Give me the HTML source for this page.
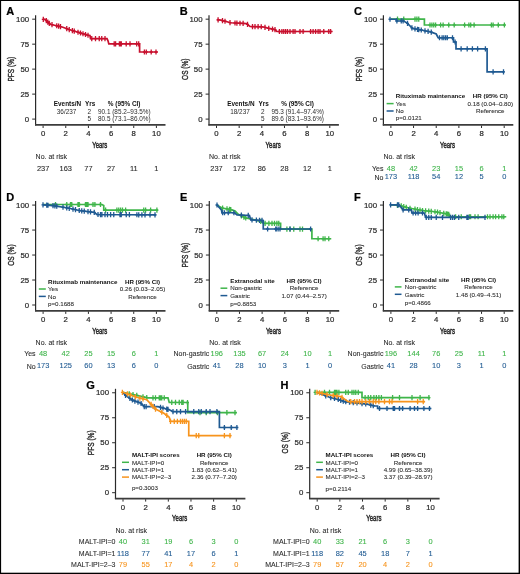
<!DOCTYPE html>
<html><head><meta charset="utf-8"><style>
html,body{margin:0;padding:0;background:#fff;width:520px;height:574px;overflow:hidden}
svg{display:block;font-family:"Liberation Sans",sans-serif;will-change:transform}
</style></head><body>
<svg width="520" height="574" viewBox="0 0 520 574">
<rect x="0" y="0" width="520" height="574" fill="#fff"/>
<line x1="35.60" y1="15.20" x2="35.60" y2="125.40" stroke="#2a2a2a" stroke-width="1.2"/>
<line x1="35.00" y1="124.95" x2="165.50" y2="124.95" stroke="#3c3c3c" stroke-width="1.8"/>
<line x1="32.20" y1="119.10" x2="35.60" y2="119.10" stroke="#2a2a2a" stroke-width="1.0"/>
<text transform="translate(29.20,121.68) scale(0.97,1)" font-size="8.1" text-anchor="end" font-weight="normal" fill="#2b2b2b" stroke="#2b2b2b" stroke-width="0.22">0</text>
<line x1="32.20" y1="94.12" x2="35.60" y2="94.12" stroke="#2a2a2a" stroke-width="1.0"/>
<text transform="translate(29.20,96.70) scale(0.97,1)" font-size="8.1" text-anchor="end" font-weight="normal" fill="#2b2b2b" stroke="#2b2b2b" stroke-width="0.22">25</text>
<line x1="32.20" y1="69.14" x2="35.60" y2="69.14" stroke="#2a2a2a" stroke-width="1.0"/>
<text transform="translate(29.20,71.72) scale(0.97,1)" font-size="8.1" text-anchor="end" font-weight="normal" fill="#2b2b2b" stroke="#2b2b2b" stroke-width="0.22">50</text>
<line x1="32.20" y1="44.16" x2="35.60" y2="44.16" stroke="#2a2a2a" stroke-width="1.0"/>
<text transform="translate(29.20,46.74) scale(0.97,1)" font-size="8.1" text-anchor="end" font-weight="normal" fill="#2b2b2b" stroke="#2b2b2b" stroke-width="0.22">75</text>
<line x1="32.20" y1="19.18" x2="35.60" y2="19.18" stroke="#2a2a2a" stroke-width="1.0"/>
<text transform="translate(29.20,21.76) scale(0.97,1)" font-size="8.1" text-anchor="end" font-weight="normal" fill="#2b2b2b" stroke="#2b2b2b" stroke-width="0.22">100</text>
<line x1="43.10" y1="125.60" x2="43.10" y2="128.00" stroke="#2a2a2a" stroke-width="1.0"/>
<text transform="translate(43.10,136.00) scale(0.97,1)" font-size="8.0" text-anchor="middle" font-weight="normal" fill="#2b2b2b" stroke="#2b2b2b" stroke-width="0.22">0</text>
<line x1="65.76" y1="125.60" x2="65.76" y2="128.00" stroke="#2a2a2a" stroke-width="1.0"/>
<text transform="translate(65.76,136.00) scale(0.97,1)" font-size="8.0" text-anchor="middle" font-weight="normal" fill="#2b2b2b" stroke="#2b2b2b" stroke-width="0.22">2</text>
<line x1="88.42" y1="125.60" x2="88.42" y2="128.00" stroke="#2a2a2a" stroke-width="1.0"/>
<text transform="translate(88.42,136.00) scale(0.97,1)" font-size="8.0" text-anchor="middle" font-weight="normal" fill="#2b2b2b" stroke="#2b2b2b" stroke-width="0.22">4</text>
<line x1="111.08" y1="125.60" x2="111.08" y2="128.00" stroke="#2a2a2a" stroke-width="1.0"/>
<text transform="translate(111.08,136.00) scale(0.97,1)" font-size="8.0" text-anchor="middle" font-weight="normal" fill="#2b2b2b" stroke="#2b2b2b" stroke-width="0.22">6</text>
<line x1="133.74" y1="125.60" x2="133.74" y2="128.00" stroke="#2a2a2a" stroke-width="1.0"/>
<text transform="translate(133.74,136.00) scale(0.97,1)" font-size="8.0" text-anchor="middle" font-weight="normal" fill="#2b2b2b" stroke="#2b2b2b" stroke-width="0.22">8</text>
<line x1="156.40" y1="125.60" x2="156.40" y2="128.00" stroke="#2a2a2a" stroke-width="1.0"/>
<text transform="translate(156.40,136.00) scale(0.97,1)" font-size="8.0" text-anchor="middle" font-weight="normal" fill="#2b2b2b" stroke="#2b2b2b" stroke-width="0.22">10</text>
<text transform="translate(99.75,147.60) scale(0.62,1)" font-size="9.7" text-anchor="middle" font-weight="normal" fill="#2b2b2b" stroke="#2b2b2b" stroke-width="0.5">Years</text>
<text x="6.30" y="15.20" font-size="11" text-anchor="start" font-weight="bold" fill="#000" stroke="#000" stroke-width="0.22">A</text>
<text transform="translate(14.10,69.20) rotate(-90) scale(0.69,1)" font-size="9.5" text-anchor="middle" font-weight="normal" fill="#2b2b2b" stroke="#2b2b2b" stroke-width="0.4">PFS (%)</text>
<path d="M43.10,19.30 L45.00,19.40 L50.20,24.30 L62.20,27.00 L68.30,29.30 L75.50,31.50 L88.00,35.25 L90.00,35.60 L90.50,38.60 L107.00,38.60 L108.00,40.80 L108.80,43.80 L139.60,43.80 L139.60,52.00 L157.90,52.00" fill="none" stroke="#c8102e" stroke-width="1.7" stroke-linejoin="miter"/>
<path d="M43.30,16.71V21.91M41.80,19.31H44.80M46.30,18.02V23.22M44.80,20.62H47.80M47.80,19.44V24.64M46.30,22.04H49.30M49.30,20.85V26.05M47.80,23.45H50.80M52.00,22.10V27.30M50.50,24.70H53.50M56.75,23.17V28.37M55.25,25.77H58.25M58.60,23.59V28.79M57.10,26.19H60.10M60.50,24.02V29.22M59.00,26.62H62.00M66.75,26.12V31.32M65.25,28.72H68.25M69.25,26.99V32.19M67.75,29.59H70.75M72.40,27.95V33.15M70.90,30.55H73.90M74.25,28.52V33.72M72.75,31.12H75.75M78.00,29.65V34.85M76.50,32.25H79.50M80.50,30.40V35.60M79.00,33.00H82.00M83.00,31.15V36.35M81.50,33.75H84.50M85.50,31.90V37.10M84.00,34.50H87.00M88.00,32.65V37.85M86.50,35.25H89.50M91.75,36.00V41.20M90.25,38.60H93.25M95.50,36.00V41.20M94.00,38.60H97.00M99.25,36.00V41.20M97.75,38.60H100.75M101.75,36.00V41.20M100.25,38.60H103.25M105.00,36.00V41.20M103.50,38.60H106.50M114.20,41.20V46.40M112.70,43.80H115.70M115.60,41.20V46.40M114.10,43.80H117.10M119.40,41.20V46.40M117.90,43.80H120.90M120.40,41.20V46.40M118.90,43.80H121.90M121.30,41.20V46.40M119.80,43.80H122.80M126.20,41.20V46.40M124.70,43.80H127.70M130.00,41.20V46.40M128.50,43.80H131.50M136.70,41.20V46.40M135.20,43.80H138.20M138.70,41.20V46.40M137.20,43.80H140.20M144.40,49.40V54.60M142.90,52.00H145.90M146.30,49.40V54.60M144.80,52.00H147.80M151.20,49.40V54.60M149.70,52.00H152.70M156.00,49.40V54.60M154.50,52.00H157.50" stroke="#c8102e" stroke-width="1.3" fill="none"/>
<text x="53.80" y="106.17" font-size="6.4" text-anchor="start" font-weight="bold" fill="#111">Events/N</text>
<text x="85.10" y="106.17" font-size="6.4" text-anchor="start" font-weight="bold" fill="#111">Yrs</text>
<text x="107.80" y="106.17" font-size="6.4" text-anchor="start" font-weight="bold" fill="#111">% (95% CI)</text>
<text x="66.60" y="113.57" font-size="6.4" text-anchor="middle" font-weight="normal" fill="#2b2b2b">36/237</text>
<text x="89.40" y="113.57" font-size="6.4" text-anchor="middle" font-weight="normal" fill="#2b2b2b">2</text>
<text x="98.00" y="113.57" font-size="6.4" text-anchor="start" font-weight="normal" fill="#2b2b2b">90.1 (85.2–93.5%)</text>
<text x="89.40" y="120.67" font-size="6.4" text-anchor="middle" font-weight="normal" fill="#2b2b2b">5</text>
<text x="98.00" y="120.67" font-size="6.4" text-anchor="start" font-weight="normal" fill="#2b2b2b">80.5 (73.1–86.0%)</text>
<text x="35.60" y="159.09" font-size="7.0" text-anchor="start" font-weight="normal" fill="#2b2b2b" stroke="#2b2b2b" stroke-width="0.08">No. at risk</text>
<text transform="translate(43.10,170.64) scale(0.93,1)" font-size="8.0" text-anchor="middle" font-weight="normal" fill="#2b2b2b" stroke="#2b2b2b" stroke-width="0.1">237</text>
<text transform="translate(65.76,170.64) scale(0.93,1)" font-size="8.0" text-anchor="middle" font-weight="normal" fill="#2b2b2b" stroke="#2b2b2b" stroke-width="0.1">163</text>
<text transform="translate(88.42,170.64) scale(0.93,1)" font-size="8.0" text-anchor="middle" font-weight="normal" fill="#2b2b2b" stroke="#2b2b2b" stroke-width="0.1">77</text>
<text transform="translate(111.08,170.64) scale(0.93,1)" font-size="8.0" text-anchor="middle" font-weight="normal" fill="#2b2b2b" stroke="#2b2b2b" stroke-width="0.1">27</text>
<text transform="translate(133.74,170.64) scale(0.93,1)" font-size="8.0" text-anchor="middle" font-weight="normal" fill="#2b2b2b" stroke="#2b2b2b" stroke-width="0.1">11</text>
<text transform="translate(156.40,170.64) scale(0.93,1)" font-size="8.0" text-anchor="middle" font-weight="normal" fill="#2b2b2b" stroke="#2b2b2b" stroke-width="0.1">1</text>
<line x1="209.00" y1="15.20" x2="209.00" y2="125.40" stroke="#2a2a2a" stroke-width="1.2"/>
<line x1="208.40" y1="124.95" x2="338.90" y2="124.95" stroke="#3c3c3c" stroke-width="1.8"/>
<line x1="205.60" y1="119.10" x2="209.00" y2="119.10" stroke="#2a2a2a" stroke-width="1.0"/>
<text transform="translate(202.60,121.68) scale(0.97,1)" font-size="8.1" text-anchor="end" font-weight="normal" fill="#2b2b2b" stroke="#2b2b2b" stroke-width="0.22">0</text>
<line x1="205.60" y1="94.12" x2="209.00" y2="94.12" stroke="#2a2a2a" stroke-width="1.0"/>
<text transform="translate(202.60,96.70) scale(0.97,1)" font-size="8.1" text-anchor="end" font-weight="normal" fill="#2b2b2b" stroke="#2b2b2b" stroke-width="0.22">25</text>
<line x1="205.60" y1="69.14" x2="209.00" y2="69.14" stroke="#2a2a2a" stroke-width="1.0"/>
<text transform="translate(202.60,71.72) scale(0.97,1)" font-size="8.1" text-anchor="end" font-weight="normal" fill="#2b2b2b" stroke="#2b2b2b" stroke-width="0.22">50</text>
<line x1="205.60" y1="44.16" x2="209.00" y2="44.16" stroke="#2a2a2a" stroke-width="1.0"/>
<text transform="translate(202.60,46.74) scale(0.97,1)" font-size="8.1" text-anchor="end" font-weight="normal" fill="#2b2b2b" stroke="#2b2b2b" stroke-width="0.22">75</text>
<line x1="205.60" y1="19.18" x2="209.00" y2="19.18" stroke="#2a2a2a" stroke-width="1.0"/>
<text transform="translate(202.60,21.76) scale(0.97,1)" font-size="8.1" text-anchor="end" font-weight="normal" fill="#2b2b2b" stroke="#2b2b2b" stroke-width="0.22">100</text>
<line x1="216.50" y1="125.60" x2="216.50" y2="128.00" stroke="#2a2a2a" stroke-width="1.0"/>
<text transform="translate(216.50,136.00) scale(0.97,1)" font-size="8.0" text-anchor="middle" font-weight="normal" fill="#2b2b2b" stroke="#2b2b2b" stroke-width="0.22">0</text>
<line x1="239.16" y1="125.60" x2="239.16" y2="128.00" stroke="#2a2a2a" stroke-width="1.0"/>
<text transform="translate(239.16,136.00) scale(0.97,1)" font-size="8.0" text-anchor="middle" font-weight="normal" fill="#2b2b2b" stroke="#2b2b2b" stroke-width="0.22">2</text>
<line x1="261.82" y1="125.60" x2="261.82" y2="128.00" stroke="#2a2a2a" stroke-width="1.0"/>
<text transform="translate(261.82,136.00) scale(0.97,1)" font-size="8.0" text-anchor="middle" font-weight="normal" fill="#2b2b2b" stroke="#2b2b2b" stroke-width="0.22">4</text>
<line x1="284.48" y1="125.60" x2="284.48" y2="128.00" stroke="#2a2a2a" stroke-width="1.0"/>
<text transform="translate(284.48,136.00) scale(0.97,1)" font-size="8.0" text-anchor="middle" font-weight="normal" fill="#2b2b2b" stroke="#2b2b2b" stroke-width="0.22">6</text>
<line x1="307.14" y1="125.60" x2="307.14" y2="128.00" stroke="#2a2a2a" stroke-width="1.0"/>
<text transform="translate(307.14,136.00) scale(0.97,1)" font-size="8.0" text-anchor="middle" font-weight="normal" fill="#2b2b2b" stroke="#2b2b2b" stroke-width="0.22">8</text>
<line x1="329.80" y1="125.60" x2="329.80" y2="128.00" stroke="#2a2a2a" stroke-width="1.0"/>
<text transform="translate(329.80,136.00) scale(0.97,1)" font-size="8.0" text-anchor="middle" font-weight="normal" fill="#2b2b2b" stroke="#2b2b2b" stroke-width="0.22">10</text>
<text transform="translate(273.15,147.60) scale(0.62,1)" font-size="9.7" text-anchor="middle" font-weight="normal" fill="#2b2b2b" stroke="#2b2b2b" stroke-width="0.5">Years</text>
<text x="179.70" y="15.20" font-size="11" text-anchor="start" font-weight="bold" fill="#000" stroke="#000" stroke-width="0.22">B</text>
<text transform="translate(187.50,69.20) rotate(-90) scale(0.69,1)" font-size="9.5" text-anchor="middle" font-weight="normal" fill="#2b2b2b" stroke="#2b2b2b" stroke-width="0.4">OS (%)</text>
<path d="M216.80,19.60 L221.00,20.20 L230.60,22.75 L246.25,23.60 L248.00,24.60 L250.00,26.50 L262.50,26.80 L268.75,28.40 L275.00,29.60 L276.90,31.50 L332.60,31.50" fill="none" stroke="#c8102e" stroke-width="1.7" stroke-linejoin="miter"/>
<path d="M218.10,17.19V22.39M216.60,19.79H219.60M222.50,18.00V23.20M221.00,20.60H224.00M225.00,18.66V23.86M223.50,21.26H226.50M230.00,19.99V25.19M228.50,22.59H231.50M235.00,20.39V25.59M233.50,22.99H236.50M236.90,20.49V25.69M235.40,23.09H238.40M240.00,20.66V25.86M238.50,23.26H241.50M243.10,20.83V26.03M241.60,23.43H244.60M247.50,21.71V26.91M246.00,24.31H249.00M252.50,23.96V29.16M251.00,26.56H254.00M255.00,24.02V29.22M253.50,26.62H256.50M258.10,24.09V29.29M256.60,26.69H259.60M261.25,24.17V29.37M259.75,26.77H262.75M265.00,24.84V30.04M263.50,27.44H266.50M268.75,25.80V31.00M267.25,28.40H270.25M272.50,26.52V31.72M271.00,29.12H274.00M275.00,27.00V32.20M273.50,29.60H276.50M279.40,28.90V34.10M277.90,31.50H280.90M281.90,28.90V34.10M280.40,31.50H283.40M283.75,28.90V34.10M282.25,31.50H285.25M285.60,28.90V34.10M284.10,31.50H287.10M287.50,28.90V34.10M286.00,31.50H289.00M290.00,28.90V34.10M288.50,31.50H291.50M293.10,28.90V34.10M291.60,31.50H294.60M295.00,28.90V34.10M293.50,31.50H296.50M300.00,28.90V34.10M298.50,31.50H301.50M303.10,28.90V34.10M301.60,31.50H304.60M310.60,28.90V34.10M309.10,31.50H312.10M313.10,28.90V34.10M311.60,31.50H314.60M315.60,28.90V34.10M314.10,31.50H317.10M318.10,28.90V34.10M316.60,31.50H319.60M320.00,28.90V34.10M318.50,31.50H321.50M323.75,28.90V34.10M322.25,31.50H325.25M328.75,28.90V34.10M327.25,31.50H330.25M330.60,28.90V34.10M329.10,31.50H332.10" stroke="#c8102e" stroke-width="1.3" fill="none"/>
<text x="227.20" y="106.17" font-size="6.4" text-anchor="start" font-weight="bold" fill="#111">Events/N</text>
<text x="258.50" y="106.17" font-size="6.4" text-anchor="start" font-weight="bold" fill="#111">Yrs</text>
<text x="281.20" y="106.17" font-size="6.4" text-anchor="start" font-weight="bold" fill="#111">% (95% CI)</text>
<text x="240.00" y="113.57" font-size="6.4" text-anchor="middle" font-weight="normal" fill="#2b2b2b">18/237</text>
<text x="262.80" y="113.57" font-size="6.4" text-anchor="middle" font-weight="normal" fill="#2b2b2b">2</text>
<text x="271.40" y="113.57" font-size="6.4" text-anchor="start" font-weight="normal" fill="#2b2b2b">95.3 (91.4–97.4%)</text>
<text x="262.80" y="120.67" font-size="6.4" text-anchor="middle" font-weight="normal" fill="#2b2b2b">5</text>
<text x="271.40" y="120.67" font-size="6.4" text-anchor="start" font-weight="normal" fill="#2b2b2b">89.6 (83.1–93.6%)</text>
<text x="209.00" y="159.09" font-size="7.0" text-anchor="start" font-weight="normal" fill="#2b2b2b" stroke="#2b2b2b" stroke-width="0.08">No. at risk</text>
<text transform="translate(216.50,170.64) scale(0.93,1)" font-size="8.0" text-anchor="middle" font-weight="normal" fill="#2b2b2b" stroke="#2b2b2b" stroke-width="0.1">237</text>
<text transform="translate(239.16,170.64) scale(0.93,1)" font-size="8.0" text-anchor="middle" font-weight="normal" fill="#2b2b2b" stroke="#2b2b2b" stroke-width="0.1">172</text>
<text transform="translate(261.82,170.64) scale(0.93,1)" font-size="8.0" text-anchor="middle" font-weight="normal" fill="#2b2b2b" stroke="#2b2b2b" stroke-width="0.1">86</text>
<text transform="translate(284.48,170.64) scale(0.93,1)" font-size="8.0" text-anchor="middle" font-weight="normal" fill="#2b2b2b" stroke="#2b2b2b" stroke-width="0.1">28</text>
<text transform="translate(307.14,170.64) scale(0.93,1)" font-size="8.0" text-anchor="middle" font-weight="normal" fill="#2b2b2b" stroke="#2b2b2b" stroke-width="0.1">12</text>
<text transform="translate(329.80,170.64) scale(0.93,1)" font-size="8.0" text-anchor="middle" font-weight="normal" fill="#2b2b2b" stroke="#2b2b2b" stroke-width="0.1">1</text>
<line x1="383.40" y1="15.20" x2="383.40" y2="125.40" stroke="#2a2a2a" stroke-width="1.2"/>
<line x1="382.80" y1="124.95" x2="513.30" y2="124.95" stroke="#3c3c3c" stroke-width="1.8"/>
<line x1="380.00" y1="119.10" x2="383.40" y2="119.10" stroke="#2a2a2a" stroke-width="1.0"/>
<text transform="translate(377.00,121.68) scale(0.97,1)" font-size="8.1" text-anchor="end" font-weight="normal" fill="#2b2b2b" stroke="#2b2b2b" stroke-width="0.22">0</text>
<line x1="380.00" y1="94.12" x2="383.40" y2="94.12" stroke="#2a2a2a" stroke-width="1.0"/>
<text transform="translate(377.00,96.70) scale(0.97,1)" font-size="8.1" text-anchor="end" font-weight="normal" fill="#2b2b2b" stroke="#2b2b2b" stroke-width="0.22">25</text>
<line x1="380.00" y1="69.14" x2="383.40" y2="69.14" stroke="#2a2a2a" stroke-width="1.0"/>
<text transform="translate(377.00,71.72) scale(0.97,1)" font-size="8.1" text-anchor="end" font-weight="normal" fill="#2b2b2b" stroke="#2b2b2b" stroke-width="0.22">50</text>
<line x1="380.00" y1="44.16" x2="383.40" y2="44.16" stroke="#2a2a2a" stroke-width="1.0"/>
<text transform="translate(377.00,46.74) scale(0.97,1)" font-size="8.1" text-anchor="end" font-weight="normal" fill="#2b2b2b" stroke="#2b2b2b" stroke-width="0.22">75</text>
<line x1="380.00" y1="19.18" x2="383.40" y2="19.18" stroke="#2a2a2a" stroke-width="1.0"/>
<text transform="translate(377.00,21.76) scale(0.97,1)" font-size="8.1" text-anchor="end" font-weight="normal" fill="#2b2b2b" stroke="#2b2b2b" stroke-width="0.22">100</text>
<line x1="390.90" y1="125.60" x2="390.90" y2="128.00" stroke="#2a2a2a" stroke-width="1.0"/>
<text transform="translate(390.90,136.00) scale(0.97,1)" font-size="8.0" text-anchor="middle" font-weight="normal" fill="#2b2b2b" stroke="#2b2b2b" stroke-width="0.22">0</text>
<line x1="413.56" y1="125.60" x2="413.56" y2="128.00" stroke="#2a2a2a" stroke-width="1.0"/>
<text transform="translate(413.56,136.00) scale(0.97,1)" font-size="8.0" text-anchor="middle" font-weight="normal" fill="#2b2b2b" stroke="#2b2b2b" stroke-width="0.22">2</text>
<line x1="436.22" y1="125.60" x2="436.22" y2="128.00" stroke="#2a2a2a" stroke-width="1.0"/>
<text transform="translate(436.22,136.00) scale(0.97,1)" font-size="8.0" text-anchor="middle" font-weight="normal" fill="#2b2b2b" stroke="#2b2b2b" stroke-width="0.22">4</text>
<line x1="458.88" y1="125.60" x2="458.88" y2="128.00" stroke="#2a2a2a" stroke-width="1.0"/>
<text transform="translate(458.88,136.00) scale(0.97,1)" font-size="8.0" text-anchor="middle" font-weight="normal" fill="#2b2b2b" stroke="#2b2b2b" stroke-width="0.22">6</text>
<line x1="481.54" y1="125.60" x2="481.54" y2="128.00" stroke="#2a2a2a" stroke-width="1.0"/>
<text transform="translate(481.54,136.00) scale(0.97,1)" font-size="8.0" text-anchor="middle" font-weight="normal" fill="#2b2b2b" stroke="#2b2b2b" stroke-width="0.22">8</text>
<line x1="504.20" y1="125.60" x2="504.20" y2="128.00" stroke="#2a2a2a" stroke-width="1.0"/>
<text transform="translate(504.20,136.00) scale(0.97,1)" font-size="8.0" text-anchor="middle" font-weight="normal" fill="#2b2b2b" stroke="#2b2b2b" stroke-width="0.22">10</text>
<text transform="translate(447.55,147.60) scale(0.62,1)" font-size="9.7" text-anchor="middle" font-weight="normal" fill="#2b2b2b" stroke="#2b2b2b" stroke-width="0.5">Years</text>
<text x="354.10" y="15.20" font-size="11" text-anchor="start" font-weight="bold" fill="#000" stroke="#000" stroke-width="0.22">C</text>
<text transform="translate(361.90,69.20) rotate(-90) scale(0.69,1)" font-size="9.5" text-anchor="middle" font-weight="normal" fill="#2b2b2b" stroke="#2b2b2b" stroke-width="0.4">PFS (%)</text>
<path d="M390.90,19.10 L424.40,19.10 L424.40,25.00 L505.30,25.00" fill="none" stroke="#3fb54a" stroke-width="1.7" stroke-linejoin="miter"/>
<path d="M397.50,16.50V21.70M396.00,19.10H399.00M403.75,16.50V21.70M402.25,19.10H405.25M415.00,16.50V21.70M413.50,19.10H416.50M416.90,16.50V21.70M415.40,19.10H418.40M418.75,16.50V21.70M417.25,19.10H420.25M430.00,22.40V27.60M428.50,25.00H431.50M431.90,22.40V27.60M430.40,25.00H433.40M433.75,22.40V27.60M432.25,25.00H435.25M435.60,22.40V27.60M434.10,25.00H437.10M440.60,22.40V27.60M439.10,25.00H442.10M443.10,22.40V27.60M441.60,25.00H444.60M448.75,22.40V27.60M447.25,25.00H450.25M454.20,22.40V27.60M452.70,25.00H455.70M464.60,22.40V27.60M463.10,25.00H466.10M468.90,22.40V27.60M467.40,25.00H470.40M470.70,22.40V27.60M469.20,25.00H472.20M474.10,22.40V27.60M472.60,25.00H475.60M491.40,22.40V27.60M489.90,25.00H492.90M493.10,22.40V27.60M491.60,25.00H494.60M498.30,22.40V27.60M496.80,25.00H499.80M504.40,22.40V27.60M502.90,25.00H505.90" stroke="#3fb54a" stroke-width="1.3" fill="none"/>
<path d="M390.90,19.25 L396.25,19.25 L396.25,20.90 L403.75,21.00 L407.50,23.40 L410.60,26.50 L412.50,28.40 L422.50,30.25 L431.25,32.10 L436.25,34.00 L438.10,37.75 L453.50,37.75 L453.50,42.00 L456.00,42.00 L456.00,48.80 L487.10,48.80 L487.10,71.80 L504.40,71.80" fill="none" stroke="#1f5a92" stroke-width="1.7" stroke-linejoin="miter"/>
<path d="M390.00,16.65V21.85M388.50,19.25H391.50M396.90,18.31V23.51M395.40,20.91H398.40M401.25,18.37V23.57M399.75,20.97H402.75M403.10,18.39V23.59M401.60,20.99H404.60M407.50,20.80V26.00M406.00,23.40H409.00M411.90,25.20V30.40M410.40,27.80H413.40M415.00,26.26V31.46M413.50,28.86H416.50M417.50,26.72V31.93M416.00,29.32H419.00M418.75,26.96V32.16M417.25,29.56H420.25M421.25,27.42V32.62M419.75,30.02H422.75M425.00,28.18V33.38M423.50,30.78H426.50M428.10,28.83V34.03M426.60,31.43H429.60M431.25,29.50V34.70M429.75,32.10H432.75M439.50,35.15V40.35M438.00,37.75H441.00M442.10,35.15V40.35M440.60,37.75H443.60M443.80,35.15V40.35M442.30,37.75H445.30M445.60,35.15V40.35M444.10,37.75H447.10M447.30,35.15V40.35M445.80,37.75H448.80M452.50,35.15V40.35M451.00,37.75H454.00M455.10,39.40V44.60M453.60,42.00H456.60M461.10,46.20V51.40M459.60,48.80H462.60M467.20,46.20V51.40M465.70,48.80H468.70M472.40,46.20V51.40M470.90,48.80H473.90M477.60,46.20V51.40M476.10,48.80H479.10M485.40,46.20V51.40M483.90,48.80H486.90M493.10,69.20V74.40M491.60,71.80H494.60M503.50,69.20V74.40M502.00,71.80H505.00" stroke="#1f5a92" stroke-width="1.3" fill="none"/>
<text x="395.80" y="98.40" font-size="6.2" text-anchor="start" font-weight="bold" fill="#111">Rituximab maintenance</text>
<text x="490.30" y="98.40" font-size="6.2" text-anchor="middle" font-weight="bold" fill="#111">HR (95% CI)</text>
<line x1="386.60" y1="103.60" x2="393.60" y2="103.60" stroke="#3fb54a" stroke-width="1.5"/>
<text x="395.80" y="105.80" font-size="6.2" text-anchor="start" font-weight="normal" fill="#2b2b2b" stroke="#2b2b2b" stroke-width="0.08">Yes</text>
<text x="490.30" y="105.80" font-size="6.2" text-anchor="middle" font-weight="normal" fill="#2b2b2b" stroke="#2b2b2b" stroke-width="0.08">0.18 (0.04–0.80)</text>
<line x1="386.60" y1="111.00" x2="393.60" y2="111.00" stroke="#1f5a92" stroke-width="1.5"/>
<text x="395.80" y="113.20" font-size="6.2" text-anchor="start" font-weight="normal" fill="#2b2b2b" stroke="#2b2b2b" stroke-width="0.08">No</text>
<text x="490.30" y="113.20" font-size="6.2" text-anchor="middle" font-weight="normal" fill="#2b2b2b" stroke="#2b2b2b" stroke-width="0.08">Reference</text>
<text x="395.80" y="120.20" font-size="6.2" text-anchor="start" font-weight="normal" fill="#2b2b2b" stroke="#2b2b2b" stroke-width="0.08">p=0.0121</text>
<text x="383.40" y="159.09" font-size="7.0" text-anchor="start" font-weight="normal" fill="#2b2b2b" stroke="#2b2b2b" stroke-width="0.08">No. at risk</text>
<text x="383.40" y="170.89" font-size="7.0" text-anchor="end" font-weight="normal" fill="#2b2b2b" stroke="#2b2b2b" stroke-width="0.08">Yes</text>
<text transform="translate(390.90,170.74) scale(0.93,1)" font-size="8.0" text-anchor="middle" font-weight="normal" fill="#3fb54a" stroke="#3fb54a" stroke-width="0.1">48</text>
<text transform="translate(413.56,170.74) scale(0.93,1)" font-size="8.0" text-anchor="middle" font-weight="normal" fill="#3fb54a" stroke="#3fb54a" stroke-width="0.1">42</text>
<text transform="translate(436.22,170.74) scale(0.93,1)" font-size="8.0" text-anchor="middle" font-weight="normal" fill="#3fb54a" stroke="#3fb54a" stroke-width="0.1">23</text>
<text transform="translate(458.88,170.74) scale(0.93,1)" font-size="8.0" text-anchor="middle" font-weight="normal" fill="#3fb54a" stroke="#3fb54a" stroke-width="0.1">15</text>
<text transform="translate(481.54,170.74) scale(0.93,1)" font-size="8.0" text-anchor="middle" font-weight="normal" fill="#3fb54a" stroke="#3fb54a" stroke-width="0.1">6</text>
<text transform="translate(504.20,170.74) scale(0.93,1)" font-size="8.0" text-anchor="middle" font-weight="normal" fill="#3fb54a" stroke="#3fb54a" stroke-width="0.1">1</text>
<text x="383.40" y="179.59" font-size="7.0" text-anchor="end" font-weight="normal" fill="#2b2b2b" stroke="#2b2b2b" stroke-width="0.08">No</text>
<text transform="translate(390.90,179.44) scale(0.93,1)" font-size="8.0" text-anchor="middle" font-weight="normal" fill="#1f5a92" stroke="#1f5a92" stroke-width="0.1">173</text>
<text transform="translate(413.56,179.44) scale(0.93,1)" font-size="8.0" text-anchor="middle" font-weight="normal" fill="#1f5a92" stroke="#1f5a92" stroke-width="0.1">118</text>
<text transform="translate(436.22,179.44) scale(0.93,1)" font-size="8.0" text-anchor="middle" font-weight="normal" fill="#1f5a92" stroke="#1f5a92" stroke-width="0.1">54</text>
<text transform="translate(458.88,179.44) scale(0.93,1)" font-size="8.0" text-anchor="middle" font-weight="normal" fill="#1f5a92" stroke="#1f5a92" stroke-width="0.1">12</text>
<text transform="translate(481.54,179.44) scale(0.93,1)" font-size="8.0" text-anchor="middle" font-weight="normal" fill="#1f5a92" stroke="#1f5a92" stroke-width="0.1">5</text>
<text transform="translate(504.20,179.44) scale(0.93,1)" font-size="8.0" text-anchor="middle" font-weight="normal" fill="#1f5a92" stroke="#1f5a92" stroke-width="0.1">0</text>
<line x1="35.60" y1="201.10" x2="35.60" y2="311.30" stroke="#2a2a2a" stroke-width="1.2"/>
<line x1="35.00" y1="310.85" x2="165.50" y2="310.85" stroke="#3c3c3c" stroke-width="1.8"/>
<line x1="32.20" y1="305.00" x2="35.60" y2="305.00" stroke="#2a2a2a" stroke-width="1.0"/>
<text transform="translate(29.20,307.58) scale(0.97,1)" font-size="8.1" text-anchor="end" font-weight="normal" fill="#2b2b2b" stroke="#2b2b2b" stroke-width="0.22">0</text>
<line x1="32.20" y1="280.02" x2="35.60" y2="280.02" stroke="#2a2a2a" stroke-width="1.0"/>
<text transform="translate(29.20,282.60) scale(0.97,1)" font-size="8.1" text-anchor="end" font-weight="normal" fill="#2b2b2b" stroke="#2b2b2b" stroke-width="0.22">25</text>
<line x1="32.20" y1="255.04" x2="35.60" y2="255.04" stroke="#2a2a2a" stroke-width="1.0"/>
<text transform="translate(29.20,257.62) scale(0.97,1)" font-size="8.1" text-anchor="end" font-weight="normal" fill="#2b2b2b" stroke="#2b2b2b" stroke-width="0.22">50</text>
<line x1="32.20" y1="230.06" x2="35.60" y2="230.06" stroke="#2a2a2a" stroke-width="1.0"/>
<text transform="translate(29.20,232.64) scale(0.97,1)" font-size="8.1" text-anchor="end" font-weight="normal" fill="#2b2b2b" stroke="#2b2b2b" stroke-width="0.22">75</text>
<line x1="32.20" y1="205.08" x2="35.60" y2="205.08" stroke="#2a2a2a" stroke-width="1.0"/>
<text transform="translate(29.20,207.66) scale(0.97,1)" font-size="8.1" text-anchor="end" font-weight="normal" fill="#2b2b2b" stroke="#2b2b2b" stroke-width="0.22">100</text>
<line x1="43.10" y1="311.50" x2="43.10" y2="313.90" stroke="#2a2a2a" stroke-width="1.0"/>
<text transform="translate(43.10,321.90) scale(0.97,1)" font-size="8.0" text-anchor="middle" font-weight="normal" fill="#2b2b2b" stroke="#2b2b2b" stroke-width="0.22">0</text>
<line x1="65.76" y1="311.50" x2="65.76" y2="313.90" stroke="#2a2a2a" stroke-width="1.0"/>
<text transform="translate(65.76,321.90) scale(0.97,1)" font-size="8.0" text-anchor="middle" font-weight="normal" fill="#2b2b2b" stroke="#2b2b2b" stroke-width="0.22">2</text>
<line x1="88.42" y1="311.50" x2="88.42" y2="313.90" stroke="#2a2a2a" stroke-width="1.0"/>
<text transform="translate(88.42,321.90) scale(0.97,1)" font-size="8.0" text-anchor="middle" font-weight="normal" fill="#2b2b2b" stroke="#2b2b2b" stroke-width="0.22">4</text>
<line x1="111.08" y1="311.50" x2="111.08" y2="313.90" stroke="#2a2a2a" stroke-width="1.0"/>
<text transform="translate(111.08,321.90) scale(0.97,1)" font-size="8.0" text-anchor="middle" font-weight="normal" fill="#2b2b2b" stroke="#2b2b2b" stroke-width="0.22">6</text>
<line x1="133.74" y1="311.50" x2="133.74" y2="313.90" stroke="#2a2a2a" stroke-width="1.0"/>
<text transform="translate(133.74,321.90) scale(0.97,1)" font-size="8.0" text-anchor="middle" font-weight="normal" fill="#2b2b2b" stroke="#2b2b2b" stroke-width="0.22">8</text>
<line x1="156.40" y1="311.50" x2="156.40" y2="313.90" stroke="#2a2a2a" stroke-width="1.0"/>
<text transform="translate(156.40,321.90) scale(0.97,1)" font-size="8.0" text-anchor="middle" font-weight="normal" fill="#2b2b2b" stroke="#2b2b2b" stroke-width="0.22">10</text>
<text transform="translate(99.75,333.50) scale(0.62,1)" font-size="9.7" text-anchor="middle" font-weight="normal" fill="#2b2b2b" stroke="#2b2b2b" stroke-width="0.5">Years</text>
<text x="6.30" y="201.10" font-size="11" text-anchor="start" font-weight="bold" fill="#000" stroke="#000" stroke-width="0.22">D</text>
<text transform="translate(14.10,255.10) rotate(-90) scale(0.69,1)" font-size="9.5" text-anchor="middle" font-weight="normal" fill="#2b2b2b" stroke="#2b2b2b" stroke-width="0.4">OS (%)</text>
<path d="M43.10,204.50 L102.00,204.50 L103.75,205.50 L103.75,210.10 L158.10,210.10" fill="none" stroke="#3fb54a" stroke-width="1.7" stroke-linejoin="miter"/>
<path d="M55.50,201.90V207.10M54.00,204.50H57.00M66.75,201.90V207.10M65.25,204.50H68.25M70.50,201.90V207.10M69.00,204.50H72.00M71.75,201.90V207.10M70.25,204.50H73.25M78.00,201.90V207.10M76.50,204.50H79.50M79.25,201.90V207.10M77.75,204.50H80.75M85.50,201.90V207.10M84.00,204.50H87.00M86.75,201.90V207.10M85.25,204.50H88.25M88.00,201.90V207.10M86.50,204.50H89.50M93.00,201.90V207.10M91.50,204.50H94.50M94.90,201.90V207.10M93.40,204.50H96.40M100.50,201.90V207.10M99.00,204.50H102.00M105.60,207.50V212.70M104.10,210.10H107.10M116.90,207.50V212.70M115.40,210.10H118.40M118.75,207.50V212.70M117.25,210.10H120.25M120.60,207.50V212.70M119.10,210.10H122.10M122.50,207.50V212.70M121.00,210.10H124.00M125.60,207.50V212.70M124.10,210.10H127.10M143.75,207.50V212.70M142.25,210.10H145.25M145.60,207.50V212.70M144.10,210.10H147.10M150.60,207.50V212.70M149.10,210.10H152.10M156.90,207.50V212.70M155.40,210.10H158.40" stroke="#3fb54a" stroke-width="1.3" fill="none"/>
<path d="M43.10,204.90 L53.00,205.60 L68.00,208.00 L79.25,210.50 L94.25,212.40 L96.75,214.50 L156.25,214.90" fill="none" stroke="#1f5a92" stroke-width="1.7" stroke-linejoin="miter"/>
<path d="M43.00,202.30V207.50M41.50,204.90H44.50M46.75,202.56V207.76M45.25,205.16H48.25M48.00,202.65V207.85M46.50,205.25H49.50M53.00,203.00V208.20M51.50,205.60H54.50M54.90,203.30V208.50M53.40,205.90H56.40M56.75,203.60V208.80M55.25,206.20H58.25M63.00,204.60V209.80M61.50,207.20H64.50M66.75,205.20V210.40M65.25,207.80H68.25M69.25,205.68V210.88M67.75,208.28H70.75M73.00,206.51V211.71M71.50,209.11H74.50M75.50,207.07V212.27M74.00,209.67H77.00M79.25,207.90V213.10M77.75,210.50H80.75M81.75,208.22V213.42M80.25,210.82H83.25M84.25,208.53V213.73M82.75,211.13H85.75M88.00,209.01V214.21M86.50,211.61H89.50M90.50,209.33V214.53M89.00,211.93H92.00M94.25,209.80V215.00M92.75,212.40H95.75M98.00,211.91V217.11M96.50,214.51H99.50M100.50,211.93V217.13M99.00,214.53H102.00M101.90,211.93V217.13M100.40,214.53H103.40M105.00,211.96V217.16M103.50,214.56H106.50M107.50,211.97V217.17M106.00,214.57H109.00M110.60,211.99V217.19M109.10,214.59H112.10M113.75,212.01V217.21M112.25,214.61H115.25M120.00,212.06V217.26M118.50,214.66H121.50M121.25,212.06V217.26M119.75,214.66H122.75M126.25,212.10V217.30M124.75,214.70H127.75M129.40,212.12V217.32M127.90,214.72H130.90M136.90,212.17V217.37M135.40,214.77H138.40M138.75,212.18V217.38M137.25,214.78H140.25M141.90,212.20V217.40M140.40,214.80H143.40M145.00,212.22V217.42M143.50,214.82H146.50M150.00,212.26V217.46M148.50,214.86H151.50M155.00,212.29V217.49M153.50,214.89H156.50" stroke="#1f5a92" stroke-width="1.3" fill="none"/>
<text x="48.00" y="283.80" font-size="6.2" text-anchor="start" font-weight="bold" fill="#111">Rituximab maintenance</text>
<text x="142.50" y="283.80" font-size="6.2" text-anchor="middle" font-weight="bold" fill="#111">HR (95% CI)</text>
<line x1="38.80" y1="289.00" x2="45.80" y2="289.00" stroke="#3fb54a" stroke-width="1.5"/>
<text x="48.00" y="291.20" font-size="6.2" text-anchor="start" font-weight="normal" fill="#2b2b2b" stroke="#2b2b2b" stroke-width="0.08">Yes</text>
<text x="142.50" y="291.20" font-size="6.2" text-anchor="middle" font-weight="normal" fill="#2b2b2b" stroke="#2b2b2b" stroke-width="0.08">0.26 (0.03–2.05)</text>
<line x1="38.80" y1="296.40" x2="45.80" y2="296.40" stroke="#1f5a92" stroke-width="1.5"/>
<text x="48.00" y="298.60" font-size="6.2" text-anchor="start" font-weight="normal" fill="#2b2b2b" stroke="#2b2b2b" stroke-width="0.08">No</text>
<text x="142.50" y="298.60" font-size="6.2" text-anchor="middle" font-weight="normal" fill="#2b2b2b" stroke="#2b2b2b" stroke-width="0.08">Reference</text>
<text x="48.00" y="306.40" font-size="6.2" text-anchor="start" font-weight="normal" fill="#2b2b2b" stroke="#2b2b2b" stroke-width="0.08">p=0.1688</text>
<text x="35.60" y="344.99" font-size="7.0" text-anchor="start" font-weight="normal" fill="#2b2b2b" stroke="#2b2b2b" stroke-width="0.08">No. at risk</text>
<text x="35.60" y="356.49" font-size="7.0" text-anchor="end" font-weight="normal" fill="#2b2b2b" stroke="#2b2b2b" stroke-width="0.08">Yes</text>
<text transform="translate(43.10,356.34) scale(0.93,1)" font-size="8.0" text-anchor="middle" font-weight="normal" fill="#3fb54a" stroke="#3fb54a" stroke-width="0.1">48</text>
<text transform="translate(65.76,356.34) scale(0.93,1)" font-size="8.0" text-anchor="middle" font-weight="normal" fill="#3fb54a" stroke="#3fb54a" stroke-width="0.1">42</text>
<text transform="translate(88.42,356.34) scale(0.93,1)" font-size="8.0" text-anchor="middle" font-weight="normal" fill="#3fb54a" stroke="#3fb54a" stroke-width="0.1">25</text>
<text transform="translate(111.08,356.34) scale(0.93,1)" font-size="8.0" text-anchor="middle" font-weight="normal" fill="#3fb54a" stroke="#3fb54a" stroke-width="0.1">15</text>
<text transform="translate(133.74,356.34) scale(0.93,1)" font-size="8.0" text-anchor="middle" font-weight="normal" fill="#3fb54a" stroke="#3fb54a" stroke-width="0.1">6</text>
<text transform="translate(156.40,356.34) scale(0.93,1)" font-size="8.0" text-anchor="middle" font-weight="normal" fill="#3fb54a" stroke="#3fb54a" stroke-width="0.1">1</text>
<text x="35.60" y="368.59" font-size="7.0" text-anchor="end" font-weight="normal" fill="#2b2b2b" stroke="#2b2b2b" stroke-width="0.08">No</text>
<text transform="translate(43.10,368.44) scale(0.93,1)" font-size="8.0" text-anchor="middle" font-weight="normal" fill="#1f5a92" stroke="#1f5a92" stroke-width="0.1">173</text>
<text transform="translate(65.76,368.44) scale(0.93,1)" font-size="8.0" text-anchor="middle" font-weight="normal" fill="#1f5a92" stroke="#1f5a92" stroke-width="0.1">125</text>
<text transform="translate(88.42,368.44) scale(0.93,1)" font-size="8.0" text-anchor="middle" font-weight="normal" fill="#1f5a92" stroke="#1f5a92" stroke-width="0.1">60</text>
<text transform="translate(111.08,368.44) scale(0.93,1)" font-size="8.0" text-anchor="middle" font-weight="normal" fill="#1f5a92" stroke="#1f5a92" stroke-width="0.1">13</text>
<text transform="translate(133.74,368.44) scale(0.93,1)" font-size="8.0" text-anchor="middle" font-weight="normal" fill="#1f5a92" stroke="#1f5a92" stroke-width="0.1">6</text>
<text transform="translate(156.40,368.44) scale(0.93,1)" font-size="8.0" text-anchor="middle" font-weight="normal" fill="#1f5a92" stroke="#1f5a92" stroke-width="0.1">0</text>
<line x1="209.30" y1="201.10" x2="209.30" y2="311.30" stroke="#2a2a2a" stroke-width="1.2"/>
<line x1="208.70" y1="310.85" x2="339.20" y2="310.85" stroke="#3c3c3c" stroke-width="1.8"/>
<line x1="205.90" y1="305.00" x2="209.30" y2="305.00" stroke="#2a2a2a" stroke-width="1.0"/>
<text transform="translate(202.90,307.58) scale(0.97,1)" font-size="8.1" text-anchor="end" font-weight="normal" fill="#2b2b2b" stroke="#2b2b2b" stroke-width="0.22">0</text>
<line x1="205.90" y1="280.02" x2="209.30" y2="280.02" stroke="#2a2a2a" stroke-width="1.0"/>
<text transform="translate(202.90,282.60) scale(0.97,1)" font-size="8.1" text-anchor="end" font-weight="normal" fill="#2b2b2b" stroke="#2b2b2b" stroke-width="0.22">25</text>
<line x1="205.90" y1="255.04" x2="209.30" y2="255.04" stroke="#2a2a2a" stroke-width="1.0"/>
<text transform="translate(202.90,257.62) scale(0.97,1)" font-size="8.1" text-anchor="end" font-weight="normal" fill="#2b2b2b" stroke="#2b2b2b" stroke-width="0.22">50</text>
<line x1="205.90" y1="230.06" x2="209.30" y2="230.06" stroke="#2a2a2a" stroke-width="1.0"/>
<text transform="translate(202.90,232.64) scale(0.97,1)" font-size="8.1" text-anchor="end" font-weight="normal" fill="#2b2b2b" stroke="#2b2b2b" stroke-width="0.22">75</text>
<line x1="205.90" y1="205.08" x2="209.30" y2="205.08" stroke="#2a2a2a" stroke-width="1.0"/>
<text transform="translate(202.90,207.66) scale(0.97,1)" font-size="8.1" text-anchor="end" font-weight="normal" fill="#2b2b2b" stroke="#2b2b2b" stroke-width="0.22">100</text>
<line x1="216.80" y1="311.50" x2="216.80" y2="313.90" stroke="#2a2a2a" stroke-width="1.0"/>
<text transform="translate(216.80,321.90) scale(0.97,1)" font-size="8.0" text-anchor="middle" font-weight="normal" fill="#2b2b2b" stroke="#2b2b2b" stroke-width="0.22">0</text>
<line x1="239.46" y1="311.50" x2="239.46" y2="313.90" stroke="#2a2a2a" stroke-width="1.0"/>
<text transform="translate(239.46,321.90) scale(0.97,1)" font-size="8.0" text-anchor="middle" font-weight="normal" fill="#2b2b2b" stroke="#2b2b2b" stroke-width="0.22">2</text>
<line x1="262.12" y1="311.50" x2="262.12" y2="313.90" stroke="#2a2a2a" stroke-width="1.0"/>
<text transform="translate(262.12,321.90) scale(0.97,1)" font-size="8.0" text-anchor="middle" font-weight="normal" fill="#2b2b2b" stroke="#2b2b2b" stroke-width="0.22">4</text>
<line x1="284.78" y1="311.50" x2="284.78" y2="313.90" stroke="#2a2a2a" stroke-width="1.0"/>
<text transform="translate(284.78,321.90) scale(0.97,1)" font-size="8.0" text-anchor="middle" font-weight="normal" fill="#2b2b2b" stroke="#2b2b2b" stroke-width="0.22">6</text>
<line x1="307.44" y1="311.50" x2="307.44" y2="313.90" stroke="#2a2a2a" stroke-width="1.0"/>
<text transform="translate(307.44,321.90) scale(0.97,1)" font-size="8.0" text-anchor="middle" font-weight="normal" fill="#2b2b2b" stroke="#2b2b2b" stroke-width="0.22">8</text>
<line x1="330.10" y1="311.50" x2="330.10" y2="313.90" stroke="#2a2a2a" stroke-width="1.0"/>
<text transform="translate(330.10,321.90) scale(0.97,1)" font-size="8.0" text-anchor="middle" font-weight="normal" fill="#2b2b2b" stroke="#2b2b2b" stroke-width="0.22">10</text>
<text transform="translate(273.45,333.50) scale(0.62,1)" font-size="9.7" text-anchor="middle" font-weight="normal" fill="#2b2b2b" stroke="#2b2b2b" stroke-width="0.5">Years</text>
<text x="180.00" y="201.10" font-size="11" text-anchor="start" font-weight="bold" fill="#000" stroke="#000" stroke-width="0.22">E</text>
<text transform="translate(187.80,255.10) rotate(-90) scale(0.69,1)" font-size="9.5" text-anchor="middle" font-weight="normal" fill="#2b2b2b" stroke="#2b2b2b" stroke-width="0.4">PFS (%)</text>
<path d="M216.90,204.90 L222.00,208.00 L232.00,209.90 L235.10,211.10 L238.25,214.25 L245.75,218.00 L252.00,219.25 L262.00,221.75 L263.25,223.30 L280.60,223.30 L280.60,229.20 L311.90,229.20 L311.90,238.75 L331.25,238.75" fill="none" stroke="#3fb54a" stroke-width="1.7" stroke-linejoin="miter"/>
<path d="M222.60,205.51V210.71M221.10,208.11H224.10M227.00,206.35V211.55M225.50,208.95H228.50M229.50,206.83V212.03M228.00,209.43H231.00M230.75,207.06V212.26M229.25,209.66H232.25M241.40,213.22V218.42M239.90,215.82H242.90M243.90,214.47V219.67M242.40,217.07H245.40M245.75,215.40V220.60M244.25,218.00H247.25M260.75,218.84V224.04M259.25,221.44H262.25M265.10,220.70V225.90M263.60,223.30H266.60M268.90,220.70V225.90M267.40,223.30H270.40M272.00,220.70V225.90M270.50,223.30H273.50M274.50,220.70V225.90M273.00,223.30H276.00M276.90,220.70V225.90M275.40,223.30H278.40M278.75,220.70V225.90M277.25,223.30H280.25M286.90,226.60V231.80M285.40,229.20H288.40M290.00,226.60V231.80M288.50,229.20H291.50M293.75,226.60V231.80M292.25,229.20H295.25M300.00,226.60V231.80M298.50,229.20H301.50M302.50,226.60V231.80M301.00,229.20H304.00M318.10,236.15V241.35M316.60,238.75H319.60M323.10,236.15V241.35M321.60,238.75H324.60M325.00,236.15V241.35M323.50,238.75H326.50M328.75,236.15V241.35M327.25,238.75H330.25" stroke="#3fb54a" stroke-width="1.3" fill="none"/>
<path d="M216.90,204.90 L221.40,209.90 L222.00,212.75 L234.50,212.75 L237.00,214.90 L249.50,215.50 L250.75,219.90 L263.25,220.50 L263.25,229.00 L311.25,229.00" fill="none" stroke="#1f5a92" stroke-width="1.7" stroke-linejoin="miter"/>
<path d="M217.00,202.41V207.61M215.50,205.01H218.50M222.60,210.15V215.35M221.10,212.75H224.10M224.50,210.15V215.35M223.00,212.75H226.00M228.25,210.15V215.35M226.75,212.75H229.75M233.90,210.15V215.35M232.40,212.75H235.40M241.40,212.51V217.71M239.90,215.11H242.90M248.25,212.84V218.04M246.75,215.44H249.75M252.00,217.36V222.56M250.50,219.96H253.50M256.40,217.57V222.77M254.90,220.17H257.90M259.50,217.72V222.92M258.00,220.32H261.00M262.00,217.84V223.04M260.50,220.44H263.50M267.60,226.40V231.60M266.10,229.00H269.10M275.75,226.40V231.60M274.25,229.00H277.25M276.25,226.40V231.60M274.75,229.00H277.75M278.10,226.40V231.60M276.60,229.00H279.60M280.00,226.40V231.60M278.50,229.00H281.50M290.00,226.40V231.60M288.50,229.00H291.50M310.60,226.40V231.60M309.10,229.00H312.10" stroke="#1f5a92" stroke-width="1.3" fill="none"/>
<text x="230.30" y="283.00" font-size="6.2" text-anchor="start" font-weight="bold" fill="#111">Extranodal site</text>
<text x="304.10" y="283.00" font-size="6.2" text-anchor="middle" font-weight="bold" fill="#111">HR (95% CI)</text>
<line x1="220.50" y1="288.20" x2="227.30" y2="288.20" stroke="#3fb54a" stroke-width="1.5"/>
<text x="230.30" y="290.40" font-size="6.2" text-anchor="start" font-weight="normal" fill="#2b2b2b" stroke="#2b2b2b" stroke-width="0.08">Non-gastric</text>
<text x="304.10" y="290.40" font-size="6.2" text-anchor="middle" font-weight="normal" fill="#2b2b2b" stroke="#2b2b2b" stroke-width="0.08">Reference</text>
<line x1="220.50" y1="295.60" x2="227.30" y2="295.60" stroke="#1f5a92" stroke-width="1.5"/>
<text x="230.30" y="297.80" font-size="6.2" text-anchor="start" font-weight="normal" fill="#2b2b2b" stroke="#2b2b2b" stroke-width="0.08">Gastric</text>
<text x="304.10" y="297.80" font-size="6.2" text-anchor="middle" font-weight="normal" fill="#2b2b2b" stroke="#2b2b2b" stroke-width="0.08">1.07 (0.44–2.57)</text>
<text x="230.30" y="306.40" font-size="6.2" text-anchor="start" font-weight="normal" fill="#2b2b2b" stroke="#2b2b2b" stroke-width="0.08">p=0.8853</text>
<text x="209.30" y="344.99" font-size="7.0" text-anchor="start" font-weight="normal" fill="#2b2b2b" stroke="#2b2b2b" stroke-width="0.08">No. at risk</text>
<text x="209.30" y="356.09" font-size="7.0" text-anchor="end" font-weight="normal" fill="#2b2b2b" stroke="#2b2b2b" stroke-width="0.08">Non-gastric</text>
<text transform="translate(216.80,355.94) scale(0.93,1)" font-size="8.0" text-anchor="middle" font-weight="normal" fill="#3fb54a" stroke="#3fb54a" stroke-width="0.1">196</text>
<text transform="translate(239.46,355.94) scale(0.93,1)" font-size="8.0" text-anchor="middle" font-weight="normal" fill="#3fb54a" stroke="#3fb54a" stroke-width="0.1">135</text>
<text transform="translate(262.12,355.94) scale(0.93,1)" font-size="8.0" text-anchor="middle" font-weight="normal" fill="#3fb54a" stroke="#3fb54a" stroke-width="0.1">67</text>
<text transform="translate(284.78,355.94) scale(0.93,1)" font-size="8.0" text-anchor="middle" font-weight="normal" fill="#3fb54a" stroke="#3fb54a" stroke-width="0.1">24</text>
<text transform="translate(307.44,355.94) scale(0.93,1)" font-size="8.0" text-anchor="middle" font-weight="normal" fill="#3fb54a" stroke="#3fb54a" stroke-width="0.1">10</text>
<text transform="translate(330.10,355.94) scale(0.93,1)" font-size="8.0" text-anchor="middle" font-weight="normal" fill="#3fb54a" stroke="#3fb54a" stroke-width="0.1">1</text>
<text x="209.30" y="368.59" font-size="7.0" text-anchor="end" font-weight="normal" fill="#2b2b2b" stroke="#2b2b2b" stroke-width="0.08">Gastric</text>
<text transform="translate(216.80,368.44) scale(0.93,1)" font-size="8.0" text-anchor="middle" font-weight="normal" fill="#1f5a92" stroke="#1f5a92" stroke-width="0.1">41</text>
<text transform="translate(239.46,368.44) scale(0.93,1)" font-size="8.0" text-anchor="middle" font-weight="normal" fill="#1f5a92" stroke="#1f5a92" stroke-width="0.1">28</text>
<text transform="translate(262.12,368.44) scale(0.93,1)" font-size="8.0" text-anchor="middle" font-weight="normal" fill="#1f5a92" stroke="#1f5a92" stroke-width="0.1">10</text>
<text transform="translate(284.78,368.44) scale(0.93,1)" font-size="8.0" text-anchor="middle" font-weight="normal" fill="#1f5a92" stroke="#1f5a92" stroke-width="0.1">3</text>
<text transform="translate(307.44,368.44) scale(0.93,1)" font-size="8.0" text-anchor="middle" font-weight="normal" fill="#1f5a92" stroke="#1f5a92" stroke-width="0.1">1</text>
<text transform="translate(330.10,368.44) scale(0.93,1)" font-size="8.0" text-anchor="middle" font-weight="normal" fill="#1f5a92" stroke="#1f5a92" stroke-width="0.1">0</text>
<line x1="383.40" y1="201.10" x2="383.40" y2="311.30" stroke="#2a2a2a" stroke-width="1.2"/>
<line x1="382.80" y1="310.85" x2="513.30" y2="310.85" stroke="#3c3c3c" stroke-width="1.8"/>
<line x1="380.00" y1="305.00" x2="383.40" y2="305.00" stroke="#2a2a2a" stroke-width="1.0"/>
<text transform="translate(377.00,307.58) scale(0.97,1)" font-size="8.1" text-anchor="end" font-weight="normal" fill="#2b2b2b" stroke="#2b2b2b" stroke-width="0.22">0</text>
<line x1="380.00" y1="280.02" x2="383.40" y2="280.02" stroke="#2a2a2a" stroke-width="1.0"/>
<text transform="translate(377.00,282.60) scale(0.97,1)" font-size="8.1" text-anchor="end" font-weight="normal" fill="#2b2b2b" stroke="#2b2b2b" stroke-width="0.22">25</text>
<line x1="380.00" y1="255.04" x2="383.40" y2="255.04" stroke="#2a2a2a" stroke-width="1.0"/>
<text transform="translate(377.00,257.62) scale(0.97,1)" font-size="8.1" text-anchor="end" font-weight="normal" fill="#2b2b2b" stroke="#2b2b2b" stroke-width="0.22">50</text>
<line x1="380.00" y1="230.06" x2="383.40" y2="230.06" stroke="#2a2a2a" stroke-width="1.0"/>
<text transform="translate(377.00,232.64) scale(0.97,1)" font-size="8.1" text-anchor="end" font-weight="normal" fill="#2b2b2b" stroke="#2b2b2b" stroke-width="0.22">75</text>
<line x1="380.00" y1="205.08" x2="383.40" y2="205.08" stroke="#2a2a2a" stroke-width="1.0"/>
<text transform="translate(377.00,207.66) scale(0.97,1)" font-size="8.1" text-anchor="end" font-weight="normal" fill="#2b2b2b" stroke="#2b2b2b" stroke-width="0.22">100</text>
<line x1="390.90" y1="311.50" x2="390.90" y2="313.90" stroke="#2a2a2a" stroke-width="1.0"/>
<text transform="translate(390.90,321.90) scale(0.97,1)" font-size="8.0" text-anchor="middle" font-weight="normal" fill="#2b2b2b" stroke="#2b2b2b" stroke-width="0.22">0</text>
<line x1="413.56" y1="311.50" x2="413.56" y2="313.90" stroke="#2a2a2a" stroke-width="1.0"/>
<text transform="translate(413.56,321.90) scale(0.97,1)" font-size="8.0" text-anchor="middle" font-weight="normal" fill="#2b2b2b" stroke="#2b2b2b" stroke-width="0.22">2</text>
<line x1="436.22" y1="311.50" x2="436.22" y2="313.90" stroke="#2a2a2a" stroke-width="1.0"/>
<text transform="translate(436.22,321.90) scale(0.97,1)" font-size="8.0" text-anchor="middle" font-weight="normal" fill="#2b2b2b" stroke="#2b2b2b" stroke-width="0.22">4</text>
<line x1="458.88" y1="311.50" x2="458.88" y2="313.90" stroke="#2a2a2a" stroke-width="1.0"/>
<text transform="translate(458.88,321.90) scale(0.97,1)" font-size="8.0" text-anchor="middle" font-weight="normal" fill="#2b2b2b" stroke="#2b2b2b" stroke-width="0.22">6</text>
<line x1="481.54" y1="311.50" x2="481.54" y2="313.90" stroke="#2a2a2a" stroke-width="1.0"/>
<text transform="translate(481.54,321.90) scale(0.97,1)" font-size="8.0" text-anchor="middle" font-weight="normal" fill="#2b2b2b" stroke="#2b2b2b" stroke-width="0.22">8</text>
<line x1="504.20" y1="311.50" x2="504.20" y2="313.90" stroke="#2a2a2a" stroke-width="1.0"/>
<text transform="translate(504.20,321.90) scale(0.97,1)" font-size="8.0" text-anchor="middle" font-weight="normal" fill="#2b2b2b" stroke="#2b2b2b" stroke-width="0.22">10</text>
<text transform="translate(447.55,333.50) scale(0.62,1)" font-size="9.7" text-anchor="middle" font-weight="normal" fill="#2b2b2b" stroke="#2b2b2b" stroke-width="0.5">Years</text>
<text x="354.10" y="201.10" font-size="11" text-anchor="start" font-weight="bold" fill="#000" stroke="#000" stroke-width="0.22">F</text>
<text transform="translate(361.90,255.10) rotate(-90) scale(0.69,1)" font-size="9.5" text-anchor="middle" font-weight="normal" fill="#2b2b2b" stroke="#2b2b2b" stroke-width="0.4">OS (%)</text>
<path d="M390.90,204.90 L400.00,205.50 L408.75,208.00 L422.50,210.50 L435.00,211.75 L448.75,214.25 L450.00,216.75 L506.25,216.75" fill="none" stroke="#3fb54a" stroke-width="1.7" stroke-linejoin="miter"/>
<path d="M397.50,202.74V207.94M396.00,205.34H399.00M401.25,203.26V208.46M399.75,205.86H402.75M403.75,203.97V209.17M402.25,206.57H405.25M406.25,204.69V209.89M404.75,207.29H407.75M410.00,205.63V210.83M408.50,208.23H411.50M415.00,206.54V211.74M413.50,209.14H416.50M417.50,206.99V212.19M416.00,209.59H419.00M420.00,207.45V212.65M418.50,210.05H421.50M422.50,207.90V213.10M421.00,210.50H424.00M425.60,208.21V213.41M424.10,210.81H427.10M428.75,208.53V213.72M427.25,211.12H430.25M431.25,208.78V213.97M429.75,211.38H432.75M435.00,209.15V214.35M433.50,211.75H436.50M437.50,209.60V214.80M436.00,212.20H439.00M440.00,210.06V215.26M438.50,212.66H441.50M443.75,210.74V215.94M442.25,213.34H445.25M447.50,211.42V216.62M446.00,214.02H449.00M446.25,211.20V216.40M444.75,213.80H447.75M448.75,211.65V216.85M447.25,214.25H450.25M455.60,214.15V219.35M454.10,216.75H457.10M461.25,214.15V219.35M459.75,216.75H462.75M469.40,214.15V219.35M467.90,216.75H470.90M470.60,214.15V219.35M469.10,216.75H472.10M475.00,214.15V219.35M473.50,216.75H476.50M478.10,214.15V219.35M476.60,216.75H479.60M487.50,214.15V219.35M486.00,216.75H489.00M490.00,214.15V219.35M488.50,216.75H491.50M493.10,214.15V219.35M491.60,216.75H494.60M495.60,214.15V219.35M494.10,216.75H497.10M498.75,214.15V219.35M497.25,216.75H500.25M501.90,214.15V219.35M500.40,216.75H503.40M503.75,214.15V219.35M502.25,216.75H505.25" stroke="#3fb54a" stroke-width="1.3" fill="none"/>
<path d="M390.90,204.90 L398.75,204.90 L401.25,207.40 L403.10,209.90 L411.25,209.90 L411.90,213.00 L424.40,213.00 L425.60,217.40 L485.00,217.40" fill="none" stroke="#1f5a92" stroke-width="1.7" stroke-linejoin="miter"/>
<path d="M390.60,202.30V207.50M389.10,204.90H392.10M397.50,202.30V207.50M396.00,204.90H399.00M398.75,202.30V207.50M397.25,204.90H400.25M403.10,207.30V212.50M401.60,209.90H404.60M408.75,207.30V212.50M407.25,209.90H410.25M413.10,210.40V215.60M411.60,213.00H414.60M415.60,210.40V215.60M414.10,213.00H417.10M418.10,210.40V215.60M416.60,213.00H419.60M422.50,210.40V215.60M421.00,213.00H424.00M426.25,214.80V220.00M424.75,217.40H427.75M428.75,214.80V220.00M427.25,217.40H430.25M431.25,214.80V220.00M429.75,217.40H432.75M436.25,214.80V220.00M434.75,217.40H437.75M442.50,214.80V220.00M441.00,217.40H444.00M450.60,214.80V220.00M449.10,217.40H452.10M452.50,214.80V220.00M451.00,217.40H454.00M454.40,214.80V220.00M452.90,217.40H455.90M458.75,214.80V220.00M457.25,217.40H460.25M466.90,214.80V220.00M465.40,217.40H468.40M468.10,214.80V220.00M466.60,217.40H469.60M485.00,214.80V220.00M483.50,217.40H486.50" stroke="#1f5a92" stroke-width="1.3" fill="none"/>
<text x="404.80" y="281.70" font-size="6.2" text-anchor="start" font-weight="bold" fill="#111">Extranodal site</text>
<text x="478.50" y="281.70" font-size="6.2" text-anchor="middle" font-weight="bold" fill="#111">HR (95% CI)</text>
<line x1="394.80" y1="286.90" x2="401.50" y2="286.90" stroke="#3fb54a" stroke-width="1.5"/>
<text x="404.80" y="289.10" font-size="6.2" text-anchor="start" font-weight="normal" fill="#2b2b2b" stroke="#2b2b2b" stroke-width="0.08">Non-gastric</text>
<text x="478.50" y="289.10" font-size="6.2" text-anchor="middle" font-weight="normal" fill="#2b2b2b" stroke="#2b2b2b" stroke-width="0.08">Reference</text>
<line x1="394.80" y1="294.30" x2="401.50" y2="294.30" stroke="#1f5a92" stroke-width="1.5"/>
<text x="404.80" y="296.50" font-size="6.2" text-anchor="start" font-weight="normal" fill="#2b2b2b" stroke="#2b2b2b" stroke-width="0.08">Gastric</text>
<text x="478.50" y="296.50" font-size="6.2" text-anchor="middle" font-weight="normal" fill="#2b2b2b" stroke="#2b2b2b" stroke-width="0.08">1.48 (0.49–4.51)</text>
<text x="404.80" y="304.70" font-size="6.2" text-anchor="start" font-weight="normal" fill="#2b2b2b" stroke="#2b2b2b" stroke-width="0.08">p=0.4866</text>
<text x="383.40" y="344.99" font-size="7.0" text-anchor="start" font-weight="normal" fill="#2b2b2b" stroke="#2b2b2b" stroke-width="0.08">No. at risk</text>
<text x="383.40" y="356.09" font-size="7.0" text-anchor="end" font-weight="normal" fill="#2b2b2b" stroke="#2b2b2b" stroke-width="0.08">Non-gastric</text>
<text transform="translate(390.90,355.94) scale(0.93,1)" font-size="8.0" text-anchor="middle" font-weight="normal" fill="#3fb54a" stroke="#3fb54a" stroke-width="0.1">196</text>
<text transform="translate(413.56,355.94) scale(0.93,1)" font-size="8.0" text-anchor="middle" font-weight="normal" fill="#3fb54a" stroke="#3fb54a" stroke-width="0.1">144</text>
<text transform="translate(436.22,355.94) scale(0.93,1)" font-size="8.0" text-anchor="middle" font-weight="normal" fill="#3fb54a" stroke="#3fb54a" stroke-width="0.1">76</text>
<text transform="translate(458.88,355.94) scale(0.93,1)" font-size="8.0" text-anchor="middle" font-weight="normal" fill="#3fb54a" stroke="#3fb54a" stroke-width="0.1">25</text>
<text transform="translate(481.54,355.94) scale(0.93,1)" font-size="8.0" text-anchor="middle" font-weight="normal" fill="#3fb54a" stroke="#3fb54a" stroke-width="0.1">11</text>
<text transform="translate(504.20,355.94) scale(0.93,1)" font-size="8.0" text-anchor="middle" font-weight="normal" fill="#3fb54a" stroke="#3fb54a" stroke-width="0.1">1</text>
<text x="383.40" y="368.59" font-size="7.0" text-anchor="end" font-weight="normal" fill="#2b2b2b" stroke="#2b2b2b" stroke-width="0.08">Gastric</text>
<text transform="translate(390.90,368.44) scale(0.93,1)" font-size="8.0" text-anchor="middle" font-weight="normal" fill="#1f5a92" stroke="#1f5a92" stroke-width="0.1">41</text>
<text transform="translate(413.56,368.44) scale(0.93,1)" font-size="8.0" text-anchor="middle" font-weight="normal" fill="#1f5a92" stroke="#1f5a92" stroke-width="0.1">28</text>
<text transform="translate(436.22,368.44) scale(0.93,1)" font-size="8.0" text-anchor="middle" font-weight="normal" fill="#1f5a92" stroke="#1f5a92" stroke-width="0.1">10</text>
<text transform="translate(458.88,368.44) scale(0.93,1)" font-size="8.0" text-anchor="middle" font-weight="normal" fill="#1f5a92" stroke="#1f5a92" stroke-width="0.1">3</text>
<text transform="translate(481.54,368.44) scale(0.93,1)" font-size="8.0" text-anchor="middle" font-weight="normal" fill="#1f5a92" stroke="#1f5a92" stroke-width="0.1">1</text>
<text transform="translate(504.20,368.44) scale(0.93,1)" font-size="8.0" text-anchor="middle" font-weight="normal" fill="#1f5a92" stroke="#1f5a92" stroke-width="0.1">0</text>
<line x1="115.50" y1="388.80" x2="115.50" y2="499.00" stroke="#2a2a2a" stroke-width="1.2"/>
<line x1="114.90" y1="498.55" x2="245.40" y2="498.55" stroke="#3c3c3c" stroke-width="1.8"/>
<line x1="112.10" y1="492.70" x2="115.50" y2="492.70" stroke="#2a2a2a" stroke-width="1.0"/>
<text transform="translate(109.10,495.28) scale(0.97,1)" font-size="8.1" text-anchor="end" font-weight="normal" fill="#2b2b2b" stroke="#2b2b2b" stroke-width="0.22">0</text>
<line x1="112.10" y1="467.72" x2="115.50" y2="467.72" stroke="#2a2a2a" stroke-width="1.0"/>
<text transform="translate(109.10,470.30) scale(0.97,1)" font-size="8.1" text-anchor="end" font-weight="normal" fill="#2b2b2b" stroke="#2b2b2b" stroke-width="0.22">25</text>
<line x1="112.10" y1="442.74" x2="115.50" y2="442.74" stroke="#2a2a2a" stroke-width="1.0"/>
<text transform="translate(109.10,445.32) scale(0.97,1)" font-size="8.1" text-anchor="end" font-weight="normal" fill="#2b2b2b" stroke="#2b2b2b" stroke-width="0.22">50</text>
<line x1="112.10" y1="417.76" x2="115.50" y2="417.76" stroke="#2a2a2a" stroke-width="1.0"/>
<text transform="translate(109.10,420.34) scale(0.97,1)" font-size="8.1" text-anchor="end" font-weight="normal" fill="#2b2b2b" stroke="#2b2b2b" stroke-width="0.22">75</text>
<line x1="112.10" y1="392.78" x2="115.50" y2="392.78" stroke="#2a2a2a" stroke-width="1.0"/>
<text transform="translate(109.10,395.36) scale(0.97,1)" font-size="8.1" text-anchor="end" font-weight="normal" fill="#2b2b2b" stroke="#2b2b2b" stroke-width="0.22">100</text>
<line x1="123.00" y1="499.20" x2="123.00" y2="501.60" stroke="#2a2a2a" stroke-width="1.0"/>
<text transform="translate(123.00,509.60) scale(0.97,1)" font-size="8.0" text-anchor="middle" font-weight="normal" fill="#2b2b2b" stroke="#2b2b2b" stroke-width="0.22">0</text>
<line x1="145.66" y1="499.20" x2="145.66" y2="501.60" stroke="#2a2a2a" stroke-width="1.0"/>
<text transform="translate(145.66,509.60) scale(0.97,1)" font-size="8.0" text-anchor="middle" font-weight="normal" fill="#2b2b2b" stroke="#2b2b2b" stroke-width="0.22">2</text>
<line x1="168.32" y1="499.20" x2="168.32" y2="501.60" stroke="#2a2a2a" stroke-width="1.0"/>
<text transform="translate(168.32,509.60) scale(0.97,1)" font-size="8.0" text-anchor="middle" font-weight="normal" fill="#2b2b2b" stroke="#2b2b2b" stroke-width="0.22">4</text>
<line x1="190.98" y1="499.20" x2="190.98" y2="501.60" stroke="#2a2a2a" stroke-width="1.0"/>
<text transform="translate(190.98,509.60) scale(0.97,1)" font-size="8.0" text-anchor="middle" font-weight="normal" fill="#2b2b2b" stroke="#2b2b2b" stroke-width="0.22">6</text>
<line x1="213.64" y1="499.20" x2="213.64" y2="501.60" stroke="#2a2a2a" stroke-width="1.0"/>
<text transform="translate(213.64,509.60) scale(0.97,1)" font-size="8.0" text-anchor="middle" font-weight="normal" fill="#2b2b2b" stroke="#2b2b2b" stroke-width="0.22">8</text>
<line x1="236.30" y1="499.20" x2="236.30" y2="501.60" stroke="#2a2a2a" stroke-width="1.0"/>
<text transform="translate(236.30,509.60) scale(0.97,1)" font-size="8.0" text-anchor="middle" font-weight="normal" fill="#2b2b2b" stroke="#2b2b2b" stroke-width="0.22">10</text>
<text transform="translate(179.65,521.20) scale(0.62,1)" font-size="9.7" text-anchor="middle" font-weight="normal" fill="#2b2b2b" stroke="#2b2b2b" stroke-width="0.5">Years</text>
<text x="86.20" y="388.80" font-size="11" text-anchor="start" font-weight="bold" fill="#000" stroke="#000" stroke-width="0.22">G</text>
<text transform="translate(94.00,442.80) rotate(-90) scale(0.69,1)" font-size="9.5" text-anchor="middle" font-weight="normal" fill="#2b2b2b" stroke="#2b2b2b" stroke-width="0.4">PFS (%)</text>
<path d="M122.90,392.40 L136.75,395.40 L148.00,397.90 L168.00,397.90 L169.25,402.40 L187.75,402.50 L187.75,412.60 L236.90,412.60" fill="none" stroke="#3fb54a" stroke-width="1.7" stroke-linejoin="miter"/>
<path d="M129.25,391.18V396.38M127.75,393.78H130.75M133.00,391.99V397.19M131.50,394.59H134.50M136.75,392.80V398.00M135.25,395.40H138.25M143.00,394.19V399.39M141.50,396.79H144.50M146.75,395.02V400.22M145.25,397.62H148.25M153.00,395.30V400.50M151.50,397.90H154.50M155.50,395.30V400.50M154.00,397.90H157.00M159.25,395.30V400.50M157.75,397.90H160.75M160.50,395.30V400.50M159.00,397.90H162.00M161.75,395.30V400.50M160.25,397.90H163.25M164.25,395.30V400.50M162.75,397.90H165.75M171.75,399.81V405.01M170.25,402.41H173.25M175.50,399.83V405.03M174.00,402.43H177.00M179.25,399.85V405.05M177.75,402.45H180.75M181.75,399.87V405.07M180.25,402.47H183.25M183.10,399.87V405.07M181.60,402.47H184.60M187.50,399.90V405.10M186.00,402.50H189.00M200.00,410.00V415.20M198.50,412.60H201.50M206.25,410.00V415.20M204.75,412.60H207.75M217.50,410.00V415.20M216.00,412.60H219.00M226.90,410.00V415.20M225.40,412.60H228.40M235.00,410.00V415.20M233.50,412.60H236.50" stroke="#3fb54a" stroke-width="1.3" fill="none"/>
<path d="M122.90,392.40 L125.50,395.40 L133.00,400.40 L140.50,402.90 L144.25,406.60 L158.00,406.60 L169.25,409.75 L173.00,411.60 L219.40,411.60 L219.40,427.50 L237.50,427.50" fill="none" stroke="#1f5a92" stroke-width="1.7" stroke-linejoin="miter"/>
<path d="M125.50,392.80V398.00M124.00,395.40H127.00M129.90,395.73V400.93M128.40,398.33H131.40M132.40,397.40V402.60M130.90,400.00H133.90M134.90,398.43V403.63M133.40,401.03H136.40M138.00,399.47V404.67M136.50,402.07H139.50M141.10,400.89V406.09M139.60,403.49H142.60M144.25,404.00V409.20M142.75,406.60H145.75M146.10,404.00V409.20M144.60,406.60H147.60M154.25,404.00V409.20M152.75,406.60H155.75M160.50,404.70V409.90M159.00,407.30H162.00M163.00,405.40V410.60M161.50,408.00H164.50M166.75,406.45V411.65M165.25,409.05H168.25M168.00,406.80V412.00M166.50,409.40H169.50M173.00,409.00V414.20M171.50,411.60H174.50M176.75,409.00V414.20M175.25,411.60H178.25M180.50,409.00V414.20M179.00,411.60H182.00M185.60,409.00V414.20M184.10,411.60H187.10M193.75,409.00V414.20M192.25,411.60H195.25M198.75,409.00V414.20M197.25,411.60H200.25M201.25,409.00V414.20M199.75,411.60H202.75M206.25,409.00V414.20M204.75,411.60H207.75M210.00,409.00V414.20M208.50,411.60H211.50M216.90,409.00V414.20M215.40,411.60H218.40M224.40,424.90V430.10M222.90,427.50H225.90M231.25,424.90V430.10M229.75,427.50H232.75M236.90,424.90V430.10M235.40,427.50H238.40" stroke="#1f5a92" stroke-width="1.3" fill="none"/>
<path d="M122.90,392.30 L136.75,397.25 L146.75,399.75 L155.50,409.10 L164.25,413.50 L169.25,417.25 L170.50,421.40 L188.75,421.40 L188.75,435.60 L231.25,435.60" fill="none" stroke="#f7941d" stroke-width="1.7" stroke-linejoin="miter"/>
<path d="M122.40,389.70V394.90M120.90,392.30H123.90M127.40,391.31V396.51M125.90,393.91H128.90M130.50,392.42V397.62M129.00,395.02H132.00M135.50,394.20V399.40M134.00,396.80H137.00M139.90,395.44V400.64M138.40,398.04H141.40M143.00,396.21V401.41M141.50,398.81H144.50M151.10,401.80V407.00M149.60,404.40H152.60M153.00,403.83V409.03M151.50,406.43H154.50M155.50,406.50V411.70M154.00,409.10H157.00M161.75,409.64V414.84M160.25,412.24H163.25M166.75,412.77V417.98M165.25,415.38H168.25M170.50,418.80V424.00M169.00,421.40H172.00M174.25,418.80V424.00M172.75,421.40H175.75M177.40,418.80V424.00M175.90,421.40H178.90M180.50,418.80V424.00M179.00,421.40H182.00M182.50,418.80V424.00M181.00,421.40H184.00M184.40,418.80V424.00M182.90,421.40H185.90M186.25,418.80V424.00M184.75,421.40H187.75M196.25,433.00V438.20M194.75,435.60H197.75M198.75,433.00V438.20M197.25,435.60H200.25M224.40,433.00V438.20M222.90,435.60H225.90M230.00,433.00V438.20M228.50,435.60H231.50" stroke="#f7941d" stroke-width="1.3" fill="none"/>
<text x="131.90" y="457.10" font-size="6.2" text-anchor="start" font-weight="bold" fill="#111">MALT-IPI scores</text>
<text x="214.20" y="457.10" font-size="6.2" text-anchor="middle" font-weight="bold" fill="#111">HR (95% CI)</text>
<line x1="122.00" y1="462.30" x2="129.00" y2="462.30" stroke="#3fb54a" stroke-width="1.5"/>
<text x="131.90" y="464.50" font-size="6.2" text-anchor="start" font-weight="normal" fill="#2b2b2b" stroke="#2b2b2b" stroke-width="0.08">MALT-IPI=0</text>
<text x="214.20" y="464.50" font-size="6.2" text-anchor="middle" font-weight="normal" fill="#2b2b2b" stroke="#2b2b2b" stroke-width="0.08">Reference</text>
<line x1="122.00" y1="469.70" x2="129.00" y2="469.70" stroke="#1f5a92" stroke-width="1.5"/>
<text x="131.90" y="471.90" font-size="6.2" text-anchor="start" font-weight="normal" fill="#2b2b2b" stroke="#2b2b2b" stroke-width="0.08">MALT-IPI=1</text>
<text x="214.20" y="471.90" font-size="6.2" text-anchor="middle" font-weight="normal" fill="#2b2b2b" stroke="#2b2b2b" stroke-width="0.08">1.83 (0.62–5.41)</text>
<line x1="122.00" y1="477.10" x2="129.00" y2="477.10" stroke="#f7941d" stroke-width="1.5"/>
<text x="131.90" y="479.30" font-size="6.2" text-anchor="start" font-weight="normal" fill="#2b2b2b" stroke="#2b2b2b" stroke-width="0.08">MALT-IPI=2–3</text>
<text x="214.20" y="479.30" font-size="6.2" text-anchor="middle" font-weight="normal" fill="#2b2b2b" stroke="#2b2b2b" stroke-width="0.08">2.36 (0.77–7.20)</text>
<text x="131.90" y="490.30" font-size="6.2" text-anchor="start" font-weight="normal" fill="#2b2b2b" stroke="#2b2b2b" stroke-width="0.08">p=0.3003</text>
<text x="115.50" y="532.69" font-size="7.0" text-anchor="start" font-weight="normal" fill="#2b2b2b" stroke="#2b2b2b" stroke-width="0.08">No. at risk</text>
<text x="115.50" y="544.49" font-size="7.0" text-anchor="end" font-weight="normal" fill="#2b2b2b" stroke="#2b2b2b" stroke-width="0.08">MALT-IPI=0</text>
<text transform="translate(123.00,544.34) scale(0.93,1)" font-size="8.0" text-anchor="middle" font-weight="normal" fill="#3fb54a" stroke="#3fb54a" stroke-width="0.1">40</text>
<text transform="translate(145.66,544.34) scale(0.93,1)" font-size="8.0" text-anchor="middle" font-weight="normal" fill="#3fb54a" stroke="#3fb54a" stroke-width="0.1">31</text>
<text transform="translate(168.32,544.34) scale(0.93,1)" font-size="8.0" text-anchor="middle" font-weight="normal" fill="#3fb54a" stroke="#3fb54a" stroke-width="0.1">19</text>
<text transform="translate(190.98,544.34) scale(0.93,1)" font-size="8.0" text-anchor="middle" font-weight="normal" fill="#3fb54a" stroke="#3fb54a" stroke-width="0.1">6</text>
<text transform="translate(213.64,544.34) scale(0.93,1)" font-size="8.0" text-anchor="middle" font-weight="normal" fill="#3fb54a" stroke="#3fb54a" stroke-width="0.1">3</text>
<text transform="translate(236.30,544.34) scale(0.93,1)" font-size="8.0" text-anchor="middle" font-weight="normal" fill="#3fb54a" stroke="#3fb54a" stroke-width="0.1">0</text>
<text x="115.50" y="555.99" font-size="7.0" text-anchor="end" font-weight="normal" fill="#2b2b2b" stroke="#2b2b2b" stroke-width="0.08">MALT-IPI=1</text>
<text transform="translate(123.00,555.84) scale(0.93,1)" font-size="8.0" text-anchor="middle" font-weight="normal" fill="#1f5a92" stroke="#1f5a92" stroke-width="0.1">118</text>
<text transform="translate(145.66,555.84) scale(0.93,1)" font-size="8.0" text-anchor="middle" font-weight="normal" fill="#1f5a92" stroke="#1f5a92" stroke-width="0.1">77</text>
<text transform="translate(168.32,555.84) scale(0.93,1)" font-size="8.0" text-anchor="middle" font-weight="normal" fill="#1f5a92" stroke="#1f5a92" stroke-width="0.1">41</text>
<text transform="translate(190.98,555.84) scale(0.93,1)" font-size="8.0" text-anchor="middle" font-weight="normal" fill="#1f5a92" stroke="#1f5a92" stroke-width="0.1">17</text>
<text transform="translate(213.64,555.84) scale(0.93,1)" font-size="8.0" text-anchor="middle" font-weight="normal" fill="#1f5a92" stroke="#1f5a92" stroke-width="0.1">6</text>
<text transform="translate(236.30,555.84) scale(0.93,1)" font-size="8.0" text-anchor="middle" font-weight="normal" fill="#1f5a92" stroke="#1f5a92" stroke-width="0.1">1</text>
<text x="115.50" y="566.99" font-size="7.0" text-anchor="end" font-weight="normal" fill="#2b2b2b" stroke="#2b2b2b" stroke-width="0.08">MALT-IPI=2–3</text>
<text transform="translate(123.00,566.84) scale(0.93,1)" font-size="8.0" text-anchor="middle" font-weight="normal" fill="#f7941d" stroke="#f7941d" stroke-width="0.1">79</text>
<text transform="translate(145.66,566.84) scale(0.93,1)" font-size="8.0" text-anchor="middle" font-weight="normal" fill="#f7941d" stroke="#f7941d" stroke-width="0.1">55</text>
<text transform="translate(168.32,566.84) scale(0.93,1)" font-size="8.0" text-anchor="middle" font-weight="normal" fill="#f7941d" stroke="#f7941d" stroke-width="0.1">17</text>
<text transform="translate(190.98,566.84) scale(0.93,1)" font-size="8.0" text-anchor="middle" font-weight="normal" fill="#f7941d" stroke="#f7941d" stroke-width="0.1">4</text>
<text transform="translate(213.64,566.84) scale(0.93,1)" font-size="8.0" text-anchor="middle" font-weight="normal" fill="#f7941d" stroke="#f7941d" stroke-width="0.1">2</text>
<text transform="translate(236.30,566.84) scale(0.93,1)" font-size="8.0" text-anchor="middle" font-weight="normal" fill="#f7941d" stroke="#f7941d" stroke-width="0.1">0</text>
<line x1="309.70" y1="388.80" x2="309.70" y2="499.00" stroke="#2a2a2a" stroke-width="1.2"/>
<line x1="309.10" y1="498.55" x2="439.60" y2="498.55" stroke="#3c3c3c" stroke-width="1.8"/>
<line x1="306.30" y1="492.70" x2="309.70" y2="492.70" stroke="#2a2a2a" stroke-width="1.0"/>
<text transform="translate(303.30,495.28) scale(0.97,1)" font-size="8.1" text-anchor="end" font-weight="normal" fill="#2b2b2b" stroke="#2b2b2b" stroke-width="0.22">0</text>
<line x1="306.30" y1="467.72" x2="309.70" y2="467.72" stroke="#2a2a2a" stroke-width="1.0"/>
<text transform="translate(303.30,470.30) scale(0.97,1)" font-size="8.1" text-anchor="end" font-weight="normal" fill="#2b2b2b" stroke="#2b2b2b" stroke-width="0.22">25</text>
<line x1="306.30" y1="442.74" x2="309.70" y2="442.74" stroke="#2a2a2a" stroke-width="1.0"/>
<text transform="translate(303.30,445.32) scale(0.97,1)" font-size="8.1" text-anchor="end" font-weight="normal" fill="#2b2b2b" stroke="#2b2b2b" stroke-width="0.22">50</text>
<line x1="306.30" y1="417.76" x2="309.70" y2="417.76" stroke="#2a2a2a" stroke-width="1.0"/>
<text transform="translate(303.30,420.34) scale(0.97,1)" font-size="8.1" text-anchor="end" font-weight="normal" fill="#2b2b2b" stroke="#2b2b2b" stroke-width="0.22">75</text>
<line x1="306.30" y1="392.78" x2="309.70" y2="392.78" stroke="#2a2a2a" stroke-width="1.0"/>
<text transform="translate(303.30,395.36) scale(0.97,1)" font-size="8.1" text-anchor="end" font-weight="normal" fill="#2b2b2b" stroke="#2b2b2b" stroke-width="0.22">100</text>
<line x1="317.20" y1="499.20" x2="317.20" y2="501.60" stroke="#2a2a2a" stroke-width="1.0"/>
<text transform="translate(317.20,509.60) scale(0.97,1)" font-size="8.0" text-anchor="middle" font-weight="normal" fill="#2b2b2b" stroke="#2b2b2b" stroke-width="0.22">0</text>
<line x1="339.86" y1="499.20" x2="339.86" y2="501.60" stroke="#2a2a2a" stroke-width="1.0"/>
<text transform="translate(339.86,509.60) scale(0.97,1)" font-size="8.0" text-anchor="middle" font-weight="normal" fill="#2b2b2b" stroke="#2b2b2b" stroke-width="0.22">2</text>
<line x1="362.52" y1="499.20" x2="362.52" y2="501.60" stroke="#2a2a2a" stroke-width="1.0"/>
<text transform="translate(362.52,509.60) scale(0.97,1)" font-size="8.0" text-anchor="middle" font-weight="normal" fill="#2b2b2b" stroke="#2b2b2b" stroke-width="0.22">4</text>
<line x1="385.18" y1="499.20" x2="385.18" y2="501.60" stroke="#2a2a2a" stroke-width="1.0"/>
<text transform="translate(385.18,509.60) scale(0.97,1)" font-size="8.0" text-anchor="middle" font-weight="normal" fill="#2b2b2b" stroke="#2b2b2b" stroke-width="0.22">6</text>
<line x1="407.84" y1="499.20" x2="407.84" y2="501.60" stroke="#2a2a2a" stroke-width="1.0"/>
<text transform="translate(407.84,509.60) scale(0.97,1)" font-size="8.0" text-anchor="middle" font-weight="normal" fill="#2b2b2b" stroke="#2b2b2b" stroke-width="0.22">8</text>
<line x1="430.50" y1="499.20" x2="430.50" y2="501.60" stroke="#2a2a2a" stroke-width="1.0"/>
<text transform="translate(430.50,509.60) scale(0.97,1)" font-size="8.0" text-anchor="middle" font-weight="normal" fill="#2b2b2b" stroke="#2b2b2b" stroke-width="0.22">10</text>
<text transform="translate(373.85,521.20) scale(0.62,1)" font-size="9.7" text-anchor="middle" font-weight="normal" fill="#2b2b2b" stroke="#2b2b2b" stroke-width="0.5">Years</text>
<text x="280.40" y="388.80" font-size="11" text-anchor="start" font-weight="bold" fill="#000" stroke="#000" stroke-width="0.22">H</text>
<text transform="translate(288.20,442.80) rotate(-90) scale(0.69,1)" font-size="9.5" text-anchor="middle" font-weight="normal" fill="#2b2b2b" stroke="#2b2b2b" stroke-width="0.4">OS (%)</text>
<path d="M316.90,392.40 L362.00,392.40 L362.00,397.60 L430.10,397.60" fill="none" stroke="#3fb54a" stroke-width="1.7" stroke-linejoin="miter"/>
<path d="M315.10,389.80V395.00M313.60,392.40H316.60M324.50,389.80V395.00M323.00,392.40H326.00M329.50,389.80V395.00M328.00,392.40H331.00M334.50,389.80V395.00M333.00,392.40H336.00M335.75,389.80V395.00M334.25,392.40H337.25M337.00,389.80V395.00M335.50,392.40H338.50M338.90,389.80V395.00M337.40,392.40H340.40M345.75,389.80V395.00M344.25,392.40H347.25M348.25,389.80V395.00M346.75,392.40H349.75M352.00,389.80V395.00M350.50,392.40H353.50M353.90,389.80V395.00M352.40,392.40H355.40M355.75,389.80V395.00M354.25,392.40H357.25M358.25,389.80V395.00M356.75,392.40H359.75M365.10,395.00V400.20M363.60,397.60H366.60M368.25,395.00V400.20M366.75,397.60H369.75M370.75,395.00V400.20M369.25,397.60H372.25M373.90,395.00V400.20M372.40,397.60H375.40M376.40,395.00V400.20M374.90,397.60H377.90M378.90,395.00V400.20M377.40,397.60H380.40M381.40,395.00V400.20M379.90,397.60H382.90M392.60,395.00V400.20M391.10,397.60H394.10M399.50,395.00V400.20M398.00,397.60H401.00M412.00,395.00V400.20M410.50,397.60H413.50M420.10,395.00V400.20M418.60,397.60H421.60M428.90,395.00V400.20M427.40,397.60H430.40" stroke="#3fb54a" stroke-width="1.3" fill="none"/>
<path d="M316.90,392.40 L329.50,397.25 L337.00,399.10 L344.50,401.60 L367.00,404.10 L374.50,406.00 L377.60,406.00 L377.60,408.50 L431.40,408.50" fill="none" stroke="#1f5a92" stroke-width="1.7" stroke-linejoin="miter"/>
<path d="M325.75,393.21V398.41M324.25,395.81H327.25M330.75,394.96V400.16M329.25,397.56H332.25M334.50,395.88V401.08M333.00,398.48H336.00M338.25,396.92V402.12M336.75,399.52H339.75M340.75,397.75V402.95M339.25,400.35H342.25M343.25,398.58V403.78M341.75,401.18H344.75M345.75,399.14V404.34M344.25,401.74H347.25M349.50,399.56V404.76M348.00,402.16H351.00M353.25,399.97V405.17M351.75,402.57H354.75M357.00,400.39V405.59M355.50,402.99H358.50M362.00,400.94V406.14M360.50,403.54H363.50M365.75,401.36V406.56M364.25,403.96H367.25M370.75,402.45V407.65M369.25,405.05H372.25M373.25,403.08V408.28M371.75,405.68H374.75M379.50,405.90V411.10M378.00,408.50H381.00M387.00,405.90V411.10M385.50,408.50H388.50M393.25,405.90V411.10M391.75,408.50H394.75M394.50,405.90V411.10M393.00,408.50H396.00M399.50,405.90V411.10M398.00,408.50H401.00M402.60,405.90V411.10M401.10,408.50H404.10M410.10,405.90V411.10M408.60,408.50H411.60M414.50,405.90V411.10M413.00,408.50H416.00M417.60,405.90V411.10M416.10,408.50H419.10M423.90,405.90V411.10M422.40,408.50H425.40M429.50,405.90V411.10M428.00,408.50H431.00" stroke="#1f5a92" stroke-width="1.3" fill="none"/>
<path d="M316.90,392.40 L328.25,394.75 L340.75,396.60 L348.25,401.60 L425.10,401.60" fill="none" stroke="#f7941d" stroke-width="1.7" stroke-linejoin="miter"/>
<path d="M317.00,389.82V395.02M315.50,392.42H318.50M319.50,390.34V395.54M318.00,392.94H321.00M322.00,390.86V396.06M320.50,393.46H323.50M327.00,391.89V397.09M325.50,394.49H328.50M333.25,392.89V398.09M331.75,395.49H334.75M337.00,393.44V398.65M335.50,396.05H338.50M342.00,394.83V400.03M340.50,397.43H343.50M350.75,399.00V404.20M349.25,401.60H352.25M354.50,399.00V404.20M353.00,401.60H356.00M357.00,399.00V404.20M355.50,401.60H358.50M359.50,399.00V404.20M358.00,401.60H361.00M362.00,399.00V404.20M360.50,401.60H363.50M365.75,399.00V404.20M364.25,401.60H367.25M369.50,399.00V404.20M368.00,401.60H371.00M373.25,399.00V404.20M371.75,401.60H374.75M375.75,399.00V404.20M374.25,401.60H377.25M378.90,399.00V404.20M377.40,401.60H380.40M384.50,399.00V404.20M383.00,401.60H386.00M389.50,399.00V404.20M388.00,401.60H391.00M392.00,399.00V404.20M390.50,401.60H393.50M417.60,399.00V404.20M416.10,401.60H419.10M423.25,399.00V404.20M421.75,401.60H424.75" stroke="#f7941d" stroke-width="1.3" fill="none"/>
<text x="325.60" y="457.10" font-size="6.2" text-anchor="start" font-weight="bold" fill="#111">MALT-IPI scores</text>
<text x="408.10" y="457.10" font-size="6.2" text-anchor="middle" font-weight="bold" fill="#111">HR (95% CI)</text>
<line x1="316.20" y1="462.30" x2="322.90" y2="462.30" stroke="#3fb54a" stroke-width="1.5"/>
<text x="325.60" y="464.50" font-size="6.2" text-anchor="start" font-weight="normal" fill="#2b2b2b" stroke="#2b2b2b" stroke-width="0.08">MALT-IPI=0</text>
<text x="408.10" y="464.50" font-size="6.2" text-anchor="middle" font-weight="normal" fill="#2b2b2b" stroke="#2b2b2b" stroke-width="0.08">Reference</text>
<line x1="316.20" y1="469.70" x2="322.90" y2="469.70" stroke="#1f5a92" stroke-width="1.5"/>
<text x="325.60" y="471.90" font-size="6.2" text-anchor="start" font-weight="normal" fill="#2b2b2b" stroke="#2b2b2b" stroke-width="0.08">MALT-IPI=1</text>
<text x="408.10" y="471.90" font-size="6.2" text-anchor="middle" font-weight="normal" fill="#2b2b2b" stroke="#2b2b2b" stroke-width="0.08">4.99 (0.65–38.39)</text>
<line x1="316.20" y1="477.10" x2="322.90" y2="477.10" stroke="#f7941d" stroke-width="1.5"/>
<text x="325.60" y="479.30" font-size="6.2" text-anchor="start" font-weight="normal" fill="#2b2b2b" stroke="#2b2b2b" stroke-width="0.08">MALT-IPI=2–3</text>
<text x="408.10" y="479.30" font-size="6.2" text-anchor="middle" font-weight="normal" fill="#2b2b2b" stroke="#2b2b2b" stroke-width="0.08">3.37 (0.39–28.97)</text>
<text x="325.60" y="491.20" font-size="6.2" text-anchor="start" font-weight="normal" fill="#2b2b2b" stroke="#2b2b2b" stroke-width="0.08">p=0.2114</text>
<text x="309.70" y="532.69" font-size="7.0" text-anchor="start" font-weight="normal" fill="#2b2b2b" stroke="#2b2b2b" stroke-width="0.08">No. at risk</text>
<text x="309.70" y="544.49" font-size="7.0" text-anchor="end" font-weight="normal" fill="#2b2b2b" stroke="#2b2b2b" stroke-width="0.08">MALT-IPI=0</text>
<text transform="translate(317.20,544.34) scale(0.93,1)" font-size="8.0" text-anchor="middle" font-weight="normal" fill="#3fb54a" stroke="#3fb54a" stroke-width="0.1">40</text>
<text transform="translate(339.86,544.34) scale(0.93,1)" font-size="8.0" text-anchor="middle" font-weight="normal" fill="#3fb54a" stroke="#3fb54a" stroke-width="0.1">33</text>
<text transform="translate(362.52,544.34) scale(0.93,1)" font-size="8.0" text-anchor="middle" font-weight="normal" fill="#3fb54a" stroke="#3fb54a" stroke-width="0.1">21</text>
<text transform="translate(385.18,544.34) scale(0.93,1)" font-size="8.0" text-anchor="middle" font-weight="normal" fill="#3fb54a" stroke="#3fb54a" stroke-width="0.1">6</text>
<text transform="translate(407.84,544.34) scale(0.93,1)" font-size="8.0" text-anchor="middle" font-weight="normal" fill="#3fb54a" stroke="#3fb54a" stroke-width="0.1">3</text>
<text transform="translate(430.50,544.34) scale(0.93,1)" font-size="8.0" text-anchor="middle" font-weight="normal" fill="#3fb54a" stroke="#3fb54a" stroke-width="0.1">0</text>
<text x="309.70" y="555.99" font-size="7.0" text-anchor="end" font-weight="normal" fill="#2b2b2b" stroke="#2b2b2b" stroke-width="0.08">MALT-IPI=1</text>
<text transform="translate(317.20,555.84) scale(0.93,1)" font-size="8.0" text-anchor="middle" font-weight="normal" fill="#1f5a92" stroke="#1f5a92" stroke-width="0.1">118</text>
<text transform="translate(339.86,555.84) scale(0.93,1)" font-size="8.0" text-anchor="middle" font-weight="normal" fill="#1f5a92" stroke="#1f5a92" stroke-width="0.1">82</text>
<text transform="translate(362.52,555.84) scale(0.93,1)" font-size="8.0" text-anchor="middle" font-weight="normal" fill="#1f5a92" stroke="#1f5a92" stroke-width="0.1">45</text>
<text transform="translate(385.18,555.84) scale(0.93,1)" font-size="8.0" text-anchor="middle" font-weight="normal" fill="#1f5a92" stroke="#1f5a92" stroke-width="0.1">18</text>
<text transform="translate(407.84,555.84) scale(0.93,1)" font-size="8.0" text-anchor="middle" font-weight="normal" fill="#1f5a92" stroke="#1f5a92" stroke-width="0.1">7</text>
<text transform="translate(430.50,555.84) scale(0.93,1)" font-size="8.0" text-anchor="middle" font-weight="normal" fill="#1f5a92" stroke="#1f5a92" stroke-width="0.1">1</text>
<text x="309.70" y="566.99" font-size="7.0" text-anchor="end" font-weight="normal" fill="#2b2b2b" stroke="#2b2b2b" stroke-width="0.08">MALT-IPI=2–3</text>
<text transform="translate(317.20,566.84) scale(0.93,1)" font-size="8.0" text-anchor="middle" font-weight="normal" fill="#f7941d" stroke="#f7941d" stroke-width="0.1">79</text>
<text transform="translate(339.86,566.84) scale(0.93,1)" font-size="8.0" text-anchor="middle" font-weight="normal" fill="#f7941d" stroke="#f7941d" stroke-width="0.1">57</text>
<text transform="translate(362.52,566.84) scale(0.93,1)" font-size="8.0" text-anchor="middle" font-weight="normal" fill="#f7941d" stroke="#f7941d" stroke-width="0.1">20</text>
<text transform="translate(385.18,566.84) scale(0.93,1)" font-size="8.0" text-anchor="middle" font-weight="normal" fill="#f7941d" stroke="#f7941d" stroke-width="0.1">4</text>
<text transform="translate(407.84,566.84) scale(0.93,1)" font-size="8.0" text-anchor="middle" font-weight="normal" fill="#f7941d" stroke="#f7941d" stroke-width="0.1">2</text>
<text transform="translate(430.50,566.84) scale(0.93,1)" font-size="8.0" text-anchor="middle" font-weight="normal" fill="#f7941d" stroke="#f7941d" stroke-width="0.1">0</text>
<rect x="0" y="0" width="520" height="1.0" fill="#000"/><rect x="0" y="0" width="1.1" height="574" fill="#000"/><rect x="518.6" y="0" width="1.4" height="574" fill="#000"/><rect x="0" y="572.7" width="520" height="1.3" fill="#000"/>
</svg></body></html>
